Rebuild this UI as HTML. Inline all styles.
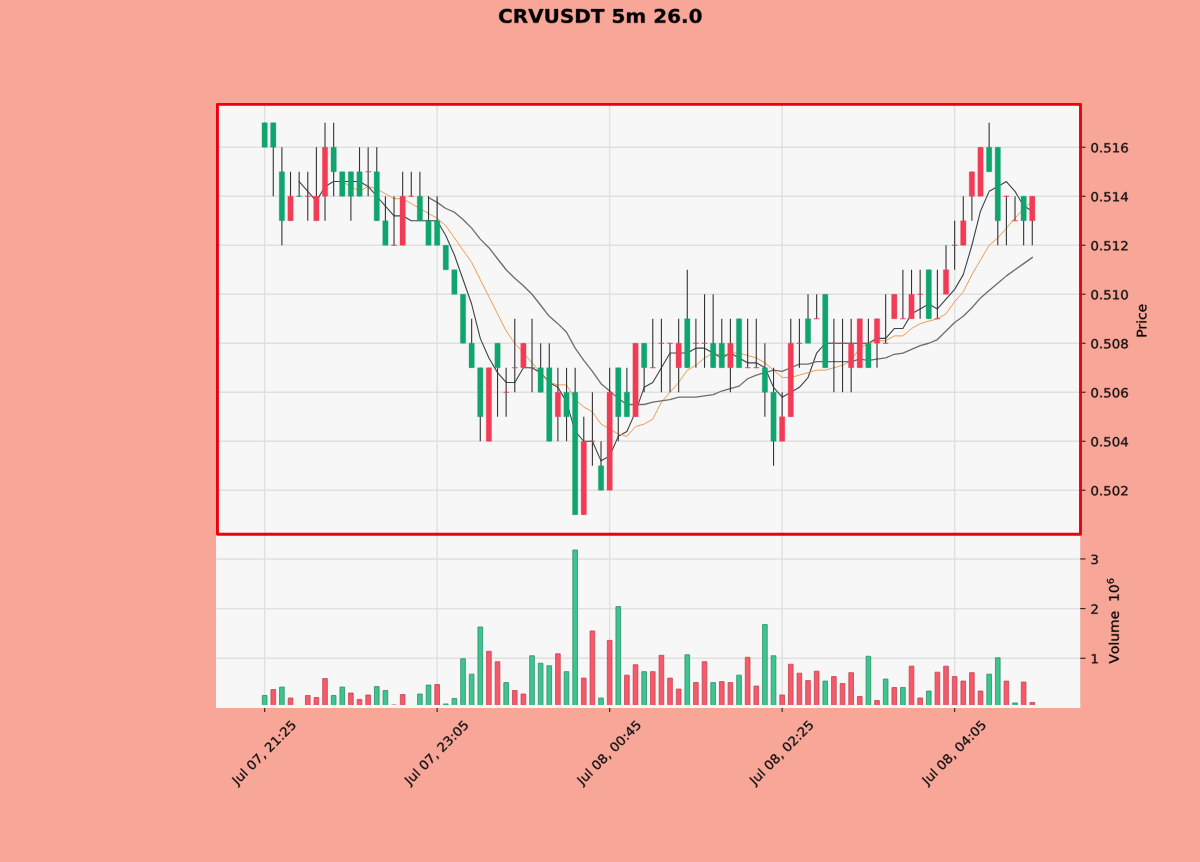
<!DOCTYPE html>
<html><head><meta charset="utf-8"><title>CRVUSDT 5m</title>
<style>html,body{margin:0;padding:0;background:#f8a698;font-family:"Liberation Sans",sans-serif;overflow:hidden}svg{display:block}</style>
</head><body>
<svg width="1200" height="862" viewBox="0 0 864 620.64"> <defs> <style type="text/css">*{stroke-linejoin: round; stroke-linecap: butt}</style> </defs> <g id="figure_1"> <g id="patch_1"> <path d="M 0 620.64 L 864 620.64 L 864 0 L 0 0 z " style="fill: #f8a698"/> </g> <g id="axes_1"> <g id="patch_2"> <path d="M 155.52 509.688 L 777.744 509.688 L 777.744 384.768 L 155.52 384.768 z " style="fill: #f7f7f7"/> </g> <g id="matplotlib.axis_1"> <g id="xtick_1"> <g id="line2d_1"> <path d="M 190.548 509.688 L 190.548 384.768  " clip-path="url(#p574d0a927d)" style="fill: none; stroke: #e0e0e0; stroke-width: 1.008; stroke-linecap: square"/> </g> <g id="line2d_2"> <defs> <path id="m77d8ac2eda" d="M 0 0 L 0 2.88  " style="stroke: #222222; stroke-width: 0.792"/> </defs> <g> <use href="#m77d8ac2eda" x="190.548" y="509.688" style="fill: #222222; stroke: #222222; stroke-width: 0.792"/> </g> </g> <g id="text_1"> <!-- Jul 07, 21:25 --> <g style="fill: #111111" transform="translate(170.891634 565.581496) rotate(-45) scale(0.09648 -0.090691)" stroke="#111111" stroke-width="167.16"> <defs> <path id="DejaVuSans-4a" d="M 628 4666 L 1259 4666 L 1259 325 Q 1259 -519 939 -900 Q 619 -1281 -91 -1281 L -331 -1281 L -331 -750 L -134 -750 Q 284 -750 456 -515 Q 628 -281 628 325 L 628 4666 z " transform="scale(0.015625)"/> <path id="DejaVuSans-75" d="M 544 1381 L 544 3500 L 1119 3500 L 1119 1403 Q 1119 906 1312 657 Q 1506 409 1894 409 Q 2359 409 2629 706 Q 2900 1003 2900 1516 L 2900 3500 L 3475 3500 L 3475 0 L 2900 0 L 2900 538 Q 2691 219 2414 64 Q 2138 -91 1772 -91 Q 1169 -91 856 284 Q 544 659 544 1381 z M 1991 3584 L 1991 3584 z " transform="scale(0.015625)"/> <path id="DejaVuSans-6c" d="M 603 4863 L 1178 4863 L 1178 0 L 603 0 L 603 4863 z " transform="scale(0.015625)"/> <path id="DejaVuSans-20" transform="scale(0.015625)"/> <path id="DejaVuSans-30" d="M 2034 4250 Q 1547 4250 1301 3770 Q 1056 3291 1056 2328 Q 1056 1369 1301 889 Q 1547 409 2034 409 Q 2525 409 2770 889 Q 3016 1369 3016 2328 Q 3016 3291 2770 3770 Q 2525 4250 2034 4250 z M 2034 4750 Q 2819 4750 3233 4129 Q 3647 3509 3647 2328 Q 3647 1150 3233 529 Q 2819 -91 2034 -91 Q 1250 -91 836 529 Q 422 1150 422 2328 Q 422 3509 836 4129 Q 1250 4750 2034 4750 z " transform="scale(0.015625)"/> <path id="DejaVuSans-37" d="M 525 4666 L 3525 4666 L 3525 4397 L 1831 0 L 1172 0 L 2766 4134 L 525 4134 L 525 4666 z " transform="scale(0.015625)"/> <path id="DejaVuSans-2c" d="M 750 794 L 1409 794 L 1409 256 L 897 -744 L 494 -744 L 750 256 L 750 794 z " transform="scale(0.015625)"/> <path id="DejaVuSans-32" d="M 1228 531 L 3431 531 L 3431 0 L 469 0 L 469 531 Q 828 903 1448 1529 Q 2069 2156 2228 2338 Q 2531 2678 2651 2914 Q 2772 3150 2772 3378 Q 2772 3750 2511 3984 Q 2250 4219 1831 4219 Q 1534 4219 1204 4116 Q 875 4013 500 3803 L 500 4441 Q 881 4594 1212 4672 Q 1544 4750 1819 4750 Q 2544 4750 2975 4387 Q 3406 4025 3406 3419 Q 3406 3131 3298 2873 Q 3191 2616 2906 2266 Q 2828 2175 2409 1742 Q 1991 1309 1228 531 z " transform="scale(0.015625)"/> <path id="DejaVuSans-31" d="M 794 531 L 1825 531 L 1825 4091 L 703 3866 L 703 4441 L 1819 4666 L 2450 4666 L 2450 531 L 3481 531 L 3481 0 L 794 0 L 794 531 z " transform="scale(0.015625)"/> <path id="DejaVuSans-3a" d="M 750 794 L 1409 794 L 1409 0 L 750 0 L 750 794 z M 750 3309 L 1409 3309 L 1409 2516 L 750 2516 L 750 3309 z " transform="scale(0.015625)"/> <path id="DejaVuSans-35" d="M 691 4666 L 3169 4666 L 3169 4134 L 1269 4134 L 1269 2991 Q 1406 3038 1543 3061 Q 1681 3084 1819 3084 Q 2600 3084 3056 2656 Q 3513 2228 3513 1497 Q 3513 744 3044 326 Q 2575 -91 1722 -91 Q 1428 -91 1123 -41 Q 819 9 494 109 L 494 744 Q 775 591 1075 516 Q 1375 441 1709 441 Q 2250 441 2565 725 Q 2881 1009 2881 1497 Q 2881 1984 2565 2268 Q 2250 2553 1709 2553 Q 1456 2553 1204 2497 Q 953 2441 691 2322 L 691 4666 z " transform="scale(0.015625)"/> </defs> <use href="#DejaVuSans-4a"/> <use href="#DejaVuSans-75" transform="translate(29.492188 0)"/> <use href="#DejaVuSans-6c" transform="translate(92.871094 0)"/> <use href="#DejaVuSans-20" transform="translate(120.654297 0)"/> <use href="#DejaVuSans-30" transform="translate(152.441406 0)"/> <use href="#DejaVuSans-37" transform="translate(216.064453 0)"/> <use href="#DejaVuSans-2c" transform="translate(279.6875 0)"/> <use href="#DejaVuSans-20" transform="translate(311.474609 0)"/> <use href="#DejaVuSans-32" transform="translate(343.261719 0)"/> <use href="#DejaVuSans-31" transform="translate(406.884766 0)"/> <use href="#DejaVuSans-3a" transform="translate(470.507812 0)"/> <use href="#DejaVuSans-32" transform="translate(504.199219 0)"/> <use href="#DejaVuSans-35" transform="translate(567.822266 0)"/> </g> </g> </g> <g id="xtick_2"> <g id="line2d_3"> <path d="M 314.748 509.688 L 314.748 384.768  " clip-path="url(#p574d0a927d)" style="fill: none; stroke: #e0e0e0; stroke-width: 1.008; stroke-linecap: square"/> </g> <g id="line2d_4"> <g> <use href="#m77d8ac2eda" x="314.748" y="509.688" style="fill: #222222; stroke: #222222; stroke-width: 0.792"/> </g> </g> <g id="text_2"> <!-- Jul 07, 23:05 --> <g style="fill: #111111" transform="translate(295.091634 565.581496) rotate(-45) scale(0.09648 -0.090691)" stroke="#111111" stroke-width="167.16"> <defs> <path id="DejaVuSans-33" d="M 2597 2516 Q 3050 2419 3304 2112 Q 3559 1806 3559 1356 Q 3559 666 3084 287 Q 2609 -91 1734 -91 Q 1441 -91 1130 -33 Q 819 25 488 141 L 488 750 Q 750 597 1062 519 Q 1375 441 1716 441 Q 2309 441 2620 675 Q 2931 909 2931 1356 Q 2931 1769 2642 2001 Q 2353 2234 1838 2234 L 1294 2234 L 1294 2753 L 1863 2753 Q 2328 2753 2575 2939 Q 2822 3125 2822 3475 Q 2822 3834 2567 4026 Q 2313 4219 1838 4219 Q 1578 4219 1281 4162 Q 984 4106 628 3988 L 628 4550 Q 988 4650 1302 4700 Q 1616 4750 1894 4750 Q 2613 4750 3031 4423 Q 3450 4097 3450 3541 Q 3450 3153 3228 2886 Q 3006 2619 2597 2516 z " transform="scale(0.015625)"/> </defs> <use href="#DejaVuSans-4a"/> <use href="#DejaVuSans-75" transform="translate(29.492188 0)"/> <use href="#DejaVuSans-6c" transform="translate(92.871094 0)"/> <use href="#DejaVuSans-20" transform="translate(120.654297 0)"/> <use href="#DejaVuSans-30" transform="translate(152.441406 0)"/> <use href="#DejaVuSans-37" transform="translate(216.064453 0)"/> <use href="#DejaVuSans-2c" transform="translate(279.6875 0)"/> <use href="#DejaVuSans-20" transform="translate(311.474609 0)"/> <use href="#DejaVuSans-32" transform="translate(343.261719 0)"/> <use href="#DejaVuSans-33" transform="translate(406.884766 0)"/> <use href="#DejaVuSans-3a" transform="translate(470.507812 0)"/> <use href="#DejaVuSans-30" transform="translate(504.199219 0)"/> <use href="#DejaVuSans-35" transform="translate(567.822266 0)"/> </g> </g> </g> <g id="xtick_3"> <g id="line2d_5"> <path d="M 438.948 509.688 L 438.948 384.768  " clip-path="url(#p574d0a927d)" style="fill: none; stroke: #e0e0e0; stroke-width: 1.008; stroke-linecap: square"/> </g> <g id="line2d_6"> <g> <use href="#m77d8ac2eda" x="438.948" y="509.688" style="fill: #222222; stroke: #222222; stroke-width: 0.792"/> </g> </g> <g id="text_3"> <!-- Jul 08, 00:45 --> <g style="fill: #111111" transform="translate(419.291634 565.581496) rotate(-45) scale(0.09648 -0.090691)" stroke="#111111" stroke-width="167.16"> <defs> <path id="DejaVuSans-38" d="M 2034 2216 Q 1584 2216 1326 1975 Q 1069 1734 1069 1313 Q 1069 891 1326 650 Q 1584 409 2034 409 Q 2484 409 2743 651 Q 3003 894 3003 1313 Q 3003 1734 2745 1975 Q 2488 2216 2034 2216 z M 1403 2484 Q 997 2584 770 2862 Q 544 3141 544 3541 Q 544 4100 942 4425 Q 1341 4750 2034 4750 Q 2731 4750 3128 4425 Q 3525 4100 3525 3541 Q 3525 3141 3298 2862 Q 3072 2584 2669 2484 Q 3125 2378 3379 2068 Q 3634 1759 3634 1313 Q 3634 634 3220 271 Q 2806 -91 2034 -91 Q 1263 -91 848 271 Q 434 634 434 1313 Q 434 1759 690 2068 Q 947 2378 1403 2484 z M 1172 3481 Q 1172 3119 1398 2916 Q 1625 2713 2034 2713 Q 2441 2713 2670 2916 Q 2900 3119 2900 3481 Q 2900 3844 2670 4047 Q 2441 4250 2034 4250 Q 1625 4250 1398 4047 Q 1172 3844 1172 3481 z " transform="scale(0.015625)"/> <path id="DejaVuSans-34" d="M 2419 4116 L 825 1625 L 2419 1625 L 2419 4116 z M 2253 4666 L 3047 4666 L 3047 1625 L 3713 1625 L 3713 1100 L 3047 1100 L 3047 0 L 2419 0 L 2419 1100 L 313 1100 L 313 1709 L 2253 4666 z " transform="scale(0.015625)"/> </defs> <use href="#DejaVuSans-4a"/> <use href="#DejaVuSans-75" transform="translate(29.492188 0)"/> <use href="#DejaVuSans-6c" transform="translate(92.871094 0)"/> <use href="#DejaVuSans-20" transform="translate(120.654297 0)"/> <use href="#DejaVuSans-30" transform="translate(152.441406 0)"/> <use href="#DejaVuSans-38" transform="translate(216.064453 0)"/> <use href="#DejaVuSans-2c" transform="translate(279.6875 0)"/> <use href="#DejaVuSans-20" transform="translate(311.474609 0)"/> <use href="#DejaVuSans-30" transform="translate(343.261719 0)"/> <use href="#DejaVuSans-30" transform="translate(406.884766 0)"/> <use href="#DejaVuSans-3a" transform="translate(470.507812 0)"/> <use href="#DejaVuSans-34" transform="translate(504.199219 0)"/> <use href="#DejaVuSans-35" transform="translate(567.822266 0)"/> </g> </g> </g> <g id="xtick_4"> <g id="line2d_7"> <path d="M 563.148 509.688 L 563.148 384.768  " clip-path="url(#p574d0a927d)" style="fill: none; stroke: #e0e0e0; stroke-width: 1.008; stroke-linecap: square"/> </g> <g id="line2d_8"> <g> <use href="#m77d8ac2eda" x="563.148" y="509.688" style="fill: #222222; stroke: #222222; stroke-width: 0.792"/> </g> </g> <g id="text_4"> <!-- Jul 08, 02:25 --> <g style="fill: #111111" transform="translate(543.491634 565.581496) rotate(-45) scale(0.09648 -0.090691)" stroke="#111111" stroke-width="167.16"> <use href="#DejaVuSans-4a"/> <use href="#DejaVuSans-75" transform="translate(29.492188 0)"/> <use href="#DejaVuSans-6c" transform="translate(92.871094 0)"/> <use href="#DejaVuSans-20" transform="translate(120.654297 0)"/> <use href="#DejaVuSans-30" transform="translate(152.441406 0)"/> <use href="#DejaVuSans-38" transform="translate(216.064453 0)"/> <use href="#DejaVuSans-2c" transform="translate(279.6875 0)"/> <use href="#DejaVuSans-20" transform="translate(311.474609 0)"/> <use href="#DejaVuSans-30" transform="translate(343.261719 0)"/> <use href="#DejaVuSans-32" transform="translate(406.884766 0)"/> <use href="#DejaVuSans-3a" transform="translate(470.507812 0)"/> <use href="#DejaVuSans-32" transform="translate(504.199219 0)"/> <use href="#DejaVuSans-35" transform="translate(567.822266 0)"/> </g> </g> </g> <g id="xtick_5"> <g id="line2d_9"> <path d="M 687.348 509.688 L 687.348 384.768  " clip-path="url(#p574d0a927d)" style="fill: none; stroke: #e0e0e0; stroke-width: 1.008; stroke-linecap: square"/> </g> <g id="line2d_10"> <g> <use href="#m77d8ac2eda" x="687.348" y="509.688" style="fill: #222222; stroke: #222222; stroke-width: 0.792"/> </g> </g> <g id="text_5"> <!-- Jul 08, 04:05 --> <g style="fill: #111111" transform="translate(667.691634 565.581496) rotate(-45) scale(0.09648 -0.090691)" stroke="#111111" stroke-width="167.16"> <use href="#DejaVuSans-4a"/> <use href="#DejaVuSans-75" transform="translate(29.492188 0)"/> <use href="#DejaVuSans-6c" transform="translate(92.871094 0)"/> <use href="#DejaVuSans-20" transform="translate(120.654297 0)"/> <use href="#DejaVuSans-30" transform="translate(152.441406 0)"/> <use href="#DejaVuSans-38" transform="translate(216.064453 0)"/> <use href="#DejaVuSans-2c" transform="translate(279.6875 0)"/> <use href="#DejaVuSans-20" transform="translate(311.474609 0)"/> <use href="#DejaVuSans-30" transform="translate(343.261719 0)"/> <use href="#DejaVuSans-34" transform="translate(406.884766 0)"/> <use href="#DejaVuSans-3a" transform="translate(470.507812 0)"/> <use href="#DejaVuSans-30" transform="translate(504.199219 0)"/> <use href="#DejaVuSans-35" transform="translate(567.822266 0)"/> </g> </g> </g> </g> <g id="matplotlib.axis_2"> <g id="ytick_1"> <g id="line2d_11"> <path d="M 155.52 473.94 L 777.744 473.94  " clip-path="url(#p574d0a927d)" style="fill: none; stroke: #e0e0e0; stroke-width: 1.008; stroke-linecap: square"/> </g> <g id="line2d_12"> <defs> <path id="m3121557628" d="M 0 0 L 3.816 0  " style="stroke: #222222; stroke-width: 0.792"/> </defs> <g> <use href="#m3121557628" x="777.744" y="473.94" style="fill: #222222; stroke: #222222; stroke-width: 0.792"/> </g> </g> <g id="text_6"> <!-- 1 --> <g style="fill: #111111" transform="translate(785.088 477.605486) scale(0.09648 -0.090691)" stroke="#111111" stroke-width="167.16"> <use href="#DejaVuSans-31"/> </g> </g> </g> <g id="ytick_2"> <g id="line2d_13"> <path d="M 155.52 438.192 L 777.744 438.192  " clip-path="url(#p574d0a927d)" style="fill: none; stroke: #e0e0e0; stroke-width: 1.008; stroke-linecap: square"/> </g> <g id="line2d_14"> <g> <use href="#m3121557628" x="777.744" y="438.192" style="fill: #222222; stroke: #222222; stroke-width: 0.792"/> </g> </g> <g id="text_7"> <!-- 2 --> <g style="fill: #111111" transform="translate(785.088 441.857486) scale(0.09648 -0.090691)" stroke="#111111" stroke-width="167.16"> <use href="#DejaVuSans-32"/> </g> </g> </g> <g id="ytick_3"> <g id="line2d_15"> <path d="M 155.52 402.444 L 777.744 402.444  " clip-path="url(#p574d0a927d)" style="fill: none; stroke: #e0e0e0; stroke-width: 1.008; stroke-linecap: square"/> </g> <g id="line2d_16"> <g> <use href="#m3121557628" x="777.744" y="402.444" style="fill: #222222; stroke: #222222; stroke-width: 0.792"/> </g> </g> <g id="text_8"> <!-- 3 --> <g style="fill: #111111" transform="translate(785.088 406.109486) scale(0.09648 -0.090691)" stroke="#111111" stroke-width="167.16"> <use href="#DejaVuSans-33"/> </g> </g> </g> </g> <g id="patch_3"> <path d="M 188.8713 509.688 L 192.2247 509.688 L 192.2247 500.751 L 188.8713 500.751 z " clip-path="url(#p574d0a927d)" style="fill: #3ec48e; stroke: #2a9068; stroke-width: 0.576; stroke-linejoin: miter"/> </g> <g id="patch_4"> <path d="M 195.0813 509.688 L 198.4347 509.688 L 198.4347 496.46124 L 195.0813 496.46124 z " clip-path="url(#p574d0a927d)" style="fill: #f65a6a; stroke: #c44452; stroke-width: 0.576; stroke-linejoin: miter"/> </g> <g id="patch_5"> <path d="M 201.2913 509.688 L 204.6447 509.688 L 204.6447 494.67384 L 201.2913 494.67384 z " clip-path="url(#p574d0a927d)" style="fill: #3ec48e; stroke: #2a9068; stroke-width: 0.576; stroke-linejoin: miter"/> </g> <g id="patch_6"> <path d="M 207.5013 509.688 L 210.8547 509.688 L 210.8547 502.5384 L 207.5013 502.5384 z " clip-path="url(#p574d0a927d)" style="fill: #f65a6a; stroke: #c44452; stroke-width: 0.576; stroke-linejoin: miter"/> </g> <g id="patch_7"> <path d="M 213.7113 509.688 L 217.0647 509.688 L 217.0647 508.61556 L 213.7113 508.61556 z " clip-path="url(#p574d0a927d)" style="fill: #f65a6a; stroke: #c44452; stroke-width: 0.576; stroke-linejoin: miter"/> </g> <g id="patch_8"> <path d="M 219.9213 509.688 L 223.2747 509.688 L 223.2747 500.751 L 219.9213 500.751 z " clip-path="url(#p574d0a927d)" style="fill: #f65a6a; stroke: #c44452; stroke-width: 0.576; stroke-linejoin: miter"/> </g> <g id="patch_9"> <path d="M 226.1313 509.688 L 229.4847 509.688 L 229.4847 502.18092 L 226.1313 502.18092 z " clip-path="url(#p574d0a927d)" style="fill: #f65a6a; stroke: #c44452; stroke-width: 0.576; stroke-linejoin: miter"/> </g> <g id="patch_10"> <path d="M 232.3413 509.688 L 235.6947 509.688 L 235.6947 488.59668 L 232.3413 488.59668 z " clip-path="url(#p574d0a927d)" style="fill: #f65a6a; stroke: #c44452; stroke-width: 0.576; stroke-linejoin: miter"/> </g> <g id="patch_11"> <path d="M 238.5513 509.688 L 241.9047 509.688 L 241.9047 500.751 L 238.5513 500.751 z " clip-path="url(#p574d0a927d)" style="fill: #3ec48e; stroke: #2a9068; stroke-width: 0.576; stroke-linejoin: miter"/> </g> <g id="patch_12"> <path d="M 244.7613 509.688 L 248.1147 509.688 L 248.1147 494.67384 L 244.7613 494.67384 z " clip-path="url(#p574d0a927d)" style="fill: #3ec48e; stroke: #2a9068; stroke-width: 0.576; stroke-linejoin: miter"/> </g> <g id="patch_13"> <path d="M 250.9713 509.688 L 254.3247 509.688 L 254.3247 498.9636 L 250.9713 498.9636 z " clip-path="url(#p574d0a927d)" style="fill: #f65a6a; stroke: #c44452; stroke-width: 0.576; stroke-linejoin: miter"/> </g> <g id="patch_14"> <path d="M 257.1813 509.688 L 260.5347 509.688 L 260.5347 503.61084 L 257.1813 503.61084 z " clip-path="url(#p574d0a927d)" style="fill: #f65a6a; stroke: #c44452; stroke-width: 0.576; stroke-linejoin: miter"/> </g> <g id="patch_15"> <path d="M 263.3913 509.688 L 266.7447 509.688 L 266.7447 500.39352 L 263.3913 500.39352 z " clip-path="url(#p574d0a927d)" style="fill: #f65a6a; stroke: #c44452; stroke-width: 0.576; stroke-linejoin: miter"/> </g> <g id="patch_16"> <path d="M 269.6013 509.688 L 272.9547 509.688 L 272.9547 494.31636 L 269.6013 494.31636 z " clip-path="url(#p574d0a927d)" style="fill: #3ec48e; stroke: #2a9068; stroke-width: 0.576; stroke-linejoin: miter"/> </g> <g id="patch_17"> <path d="M 275.8113 509.688 L 279.1647 509.688 L 279.1647 497.1762 L 275.8113 497.1762 z " clip-path="url(#p574d0a927d)" style="fill: #3ec48e; stroke: #2a9068; stroke-width: 0.576; stroke-linejoin: miter"/> </g> <g id="patch_18"> <path d="M 282.0213 509.688 L 285.3747 509.688 L 285.3747 507.54312 L 282.0213 507.54312 z " clip-path="url(#p574d0a927d)" style="fill: #f65a6a; stroke: #c44452; stroke-width: 0.576; stroke-linejoin: miter"/> </g> <g id="patch_19"> <path d="M 288.2313 509.688 L 291.5847 509.688 L 291.5847 500.03604 L 288.2313 500.03604 z " clip-path="url(#p574d0a927d)" style="fill: #f65a6a; stroke: #c44452; stroke-width: 0.576; stroke-linejoin: miter"/> </g> <g id="patch_20"> <path d="M 294.4413 509.688 L 297.7947 509.688 L 297.7947 508.97304 L 294.4413 508.97304 z " clip-path="url(#p574d0a927d)" style="fill: #f65a6a; stroke: #c44452; stroke-width: 0.576; stroke-linejoin: miter"/> </g> <g id="patch_21"> <path d="M 300.6513 509.688 L 304.0047 509.688 L 304.0047 499.67856 L 300.6513 499.67856 z " clip-path="url(#p574d0a927d)" style="fill: #3ec48e; stroke: #2a9068; stroke-width: 0.576; stroke-linejoin: miter"/> </g> <g id="patch_22"> <path d="M 306.8613 509.688 L 310.2147 509.688 L 310.2147 493.24392 L 306.8613 493.24392 z " clip-path="url(#p574d0a927d)" style="fill: #3ec48e; stroke: #2a9068; stroke-width: 0.576; stroke-linejoin: miter"/> </g> <g id="patch_23"> <path d="M 313.0713 509.688 L 316.4247 509.688 L 316.4247 492.88644 L 313.0713 492.88644 z " clip-path="url(#p574d0a927d)" style="fill: #f65a6a; stroke: #c44452; stroke-width: 0.576; stroke-linejoin: miter"/> </g> <g id="patch_24"> <path d="M 319.2813 509.688 L 322.6347 509.688 L 322.6347 506.82816 L 319.2813 506.82816 z " clip-path="url(#p574d0a927d)" style="fill: #3ec48e; stroke: #2a9068; stroke-width: 0.576; stroke-linejoin: miter"/> </g> <g id="patch_25"> <path d="M 325.4913 509.688 L 328.8447 509.688 L 328.8447 502.89588 L 325.4913 502.89588 z " clip-path="url(#p574d0a927d)" style="fill: #3ec48e; stroke: #2a9068; stroke-width: 0.576; stroke-linejoin: miter"/> </g> <g id="patch_26"> <path d="M 331.7013 509.688 L 335.0547 509.688 L 335.0547 474.29748 L 331.7013 474.29748 z " clip-path="url(#p574d0a927d)" style="fill: #3ec48e; stroke: #2a9068; stroke-width: 0.576; stroke-linejoin: miter"/> </g> <g id="patch_27"> <path d="M 337.9113 509.688 L 341.2647 509.688 L 341.2647 485.37936 L 337.9113 485.37936 z " clip-path="url(#p574d0a927d)" style="fill: #3ec48e; stroke: #2a9068; stroke-width: 0.576; stroke-linejoin: miter"/> </g> <g id="patch_28"> <path d="M 344.1213 509.688 L 347.4747 509.688 L 347.4747 451.41876 L 344.1213 451.41876 z " clip-path="url(#p574d0a927d)" style="fill: #3ec48e; stroke: #2a9068; stroke-width: 0.576; stroke-linejoin: miter"/> </g> <g id="patch_29"> <path d="M 350.3313 509.688 L 353.6847 509.688 L 353.6847 468.93528 L 350.3313 468.93528 z " clip-path="url(#p574d0a927d)" style="fill: #f65a6a; stroke: #c44452; stroke-width: 0.576; stroke-linejoin: miter"/> </g> <g id="patch_30"> <path d="M 356.5413 509.688 L 359.8947 509.688 L 359.8947 476.44236 L 356.5413 476.44236 z " clip-path="url(#p574d0a927d)" style="fill: #f65a6a; stroke: #c44452; stroke-width: 0.576; stroke-linejoin: miter"/> </g> <g id="patch_31"> <path d="M 362.7513 509.688 L 366.1047 509.688 L 366.1047 491.45652 L 362.7513 491.45652 z " clip-path="url(#p574d0a927d)" style="fill: #3ec48e; stroke: #2a9068; stroke-width: 0.576; stroke-linejoin: miter"/> </g> <g id="patch_32"> <path d="M 368.9613 509.688 L 372.3147 509.688 L 372.3147 497.1762 L 368.9613 497.1762 z " clip-path="url(#p574d0a927d)" style="fill: #f65a6a; stroke: #c44452; stroke-width: 0.576; stroke-linejoin: miter"/> </g> <g id="patch_33"> <path d="M 375.1713 509.688 L 378.5247 509.688 L 378.5247 499.67856 L 375.1713 499.67856 z " clip-path="url(#p574d0a927d)" style="fill: #f65a6a; stroke: #c44452; stroke-width: 0.576; stroke-linejoin: miter"/> </g> <g id="patch_34"> <path d="M 381.3813 509.688 L 384.7347 509.688 L 384.7347 472.1526 L 381.3813 472.1526 z " clip-path="url(#p574d0a927d)" style="fill: #3ec48e; stroke: #2a9068; stroke-width: 0.576; stroke-linejoin: miter"/> </g> <g id="patch_35"> <path d="M 387.5913 509.688 L 390.9447 509.688 L 390.9447 477.5148 L 387.5913 477.5148 z " clip-path="url(#p574d0a927d)" style="fill: #3ec48e; stroke: #2a9068; stroke-width: 0.576; stroke-linejoin: miter"/> </g> <g id="patch_36"> <path d="M 393.8013 509.688 L 397.1547 509.688 L 397.1547 479.3022 L 393.8013 479.3022 z " clip-path="url(#p574d0a927d)" style="fill: #3ec48e; stroke: #2a9068; stroke-width: 0.576; stroke-linejoin: miter"/> </g> <g id="patch_37"> <path d="M 400.0113 509.688 L 403.3647 509.688 L 403.3647 470.72268 L 400.0113 470.72268 z " clip-path="url(#p574d0a927d)" style="fill: #f65a6a; stroke: #c44452; stroke-width: 0.576; stroke-linejoin: miter"/> </g> <g id="patch_38"> <path d="M 406.2213 509.688 L 409.5747 509.688 L 409.5747 483.59196 L 406.2213 483.59196 z " clip-path="url(#p574d0a927d)" style="fill: #3ec48e; stroke: #2a9068; stroke-width: 0.576; stroke-linejoin: miter"/> </g> <g id="patch_39"> <path d="M 412.4313 509.688 L 415.7847 509.688 L 415.7847 396.00936 L 412.4313 396.00936 z " clip-path="url(#p574d0a927d)" style="fill: #3ec48e; stroke: #2a9068; stroke-width: 0.576; stroke-linejoin: miter"/> </g> <g id="patch_40"> <path d="M 418.6413 509.688 L 421.9947 509.688 L 421.9947 488.2392 L 418.6413 488.2392 z " clip-path="url(#p574d0a927d)" style="fill: #f65a6a; stroke: #c44452; stroke-width: 0.576; stroke-linejoin: miter"/> </g> <g id="patch_41"> <path d="M 424.8513 509.688 L 428.2047 509.688 L 428.2047 454.2786 L 424.8513 454.2786 z " clip-path="url(#p574d0a927d)" style="fill: #f65a6a; stroke: #c44452; stroke-width: 0.576; stroke-linejoin: miter"/> </g> <g id="patch_42"> <path d="M 431.0613 509.688 L 434.4147 509.688 L 434.4147 502.5384 L 431.0613 502.5384 z " clip-path="url(#p574d0a927d)" style="fill: #3ec48e; stroke: #2a9068; stroke-width: 0.576; stroke-linejoin: miter"/> </g> <g id="patch_43"> <path d="M 437.2713 509.688 L 440.6247 509.688 L 440.6247 461.07072 L 437.2713 461.07072 z " clip-path="url(#p574d0a927d)" style="fill: #f65a6a; stroke: #c44452; stroke-width: 0.576; stroke-linejoin: miter"/> </g> <g id="patch_44"> <path d="M 443.4813 509.688 L 446.8347 509.688 L 446.8347 436.76208 L 443.4813 436.76208 z " clip-path="url(#p574d0a927d)" style="fill: #3ec48e; stroke: #2a9068; stroke-width: 0.576; stroke-linejoin: miter"/> </g> <g id="patch_45"> <path d="M 449.6913 509.688 L 453.0447 509.688 L 453.0447 486.09432 L 449.6913 486.09432 z " clip-path="url(#p574d0a927d)" style="fill: #f65a6a; stroke: #c44452; stroke-width: 0.576; stroke-linejoin: miter"/> </g> <g id="patch_46"> <path d="M 455.9013 509.688 L 459.2547 509.688 L 459.2547 478.58724 L 455.9013 478.58724 z " clip-path="url(#p574d0a927d)" style="fill: #f65a6a; stroke: #c44452; stroke-width: 0.576; stroke-linejoin: miter"/> </g> <g id="patch_47"> <path d="M 462.1113 509.688 L 465.4647 509.688 L 465.4647 483.59196 L 462.1113 483.59196 z " clip-path="url(#p574d0a927d)" style="fill: #3ec48e; stroke: #2a9068; stroke-width: 0.576; stroke-linejoin: miter"/> </g> <g id="patch_48"> <path d="M 468.3213 509.688 L 471.6747 509.688 L 471.6747 483.59196 L 468.3213 483.59196 z " clip-path="url(#p574d0a927d)" style="fill: #f65a6a; stroke: #c44452; stroke-width: 0.576; stroke-linejoin: miter"/> </g> <g id="patch_49"> <path d="M 474.5313 509.688 L 477.8847 509.688 L 477.8847 471.79512 L 474.5313 471.79512 z " clip-path="url(#p574d0a927d)" style="fill: #f65a6a; stroke: #c44452; stroke-width: 0.576; stroke-linejoin: miter"/> </g> <g id="patch_50"> <path d="M 480.7413 509.688 L 484.0947 509.688 L 484.0947 488.2392 L 480.7413 488.2392 z " clip-path="url(#p574d0a927d)" style="fill: #f65a6a; stroke: #c44452; stroke-width: 0.576; stroke-linejoin: miter"/> </g> <g id="patch_51"> <path d="M 486.9513 509.688 L 490.3047 509.688 L 490.3047 496.10376 L 486.9513 496.10376 z " clip-path="url(#p574d0a927d)" style="fill: #f65a6a; stroke: #c44452; stroke-width: 0.576; stroke-linejoin: miter"/> </g> <g id="patch_52"> <path d="M 493.1613 509.688 L 496.5147 509.688 L 496.5147 471.43764 L 493.1613 471.43764 z " clip-path="url(#p574d0a927d)" style="fill: #3ec48e; stroke: #2a9068; stroke-width: 0.576; stroke-linejoin: miter"/> </g> <g id="patch_53"> <path d="M 499.3713 509.688 L 502.7247 509.688 L 502.7247 491.45652 L 499.3713 491.45652 z " clip-path="url(#p574d0a927d)" style="fill: #f65a6a; stroke: #c44452; stroke-width: 0.576; stroke-linejoin: miter"/> </g> <g id="patch_54"> <path d="M 505.5813 509.688 L 508.9347 509.688 L 508.9347 476.44236 L 505.5813 476.44236 z " clip-path="url(#p574d0a927d)" style="fill: #f65a6a; stroke: #c44452; stroke-width: 0.576; stroke-linejoin: miter"/> </g> <g id="patch_55"> <path d="M 511.7913 509.688 L 515.1447 509.688 L 515.1447 491.45652 L 511.7913 491.45652 z " clip-path="url(#p574d0a927d)" style="fill: #3ec48e; stroke: #2a9068; stroke-width: 0.576; stroke-linejoin: miter"/> </g> <g id="patch_56"> <path d="M 518.0013 509.688 L 521.3547 509.688 L 521.3547 490.74156 L 518.0013 490.74156 z " clip-path="url(#p574d0a927d)" style="fill: #f65a6a; stroke: #c44452; stroke-width: 0.576; stroke-linejoin: miter"/> </g> <g id="patch_57"> <path d="M 524.2113 509.688 L 527.5647 509.688 L 527.5647 491.45652 L 524.2113 491.45652 z " clip-path="url(#p574d0a927d)" style="fill: #f65a6a; stroke: #c44452; stroke-width: 0.576; stroke-linejoin: miter"/> </g> <g id="patch_58"> <path d="M 530.4213 509.688 L 533.7747 509.688 L 533.7747 486.09432 L 530.4213 486.09432 z " clip-path="url(#p574d0a927d)" style="fill: #3ec48e; stroke: #2a9068; stroke-width: 0.576; stroke-linejoin: miter"/> </g> <g id="patch_59"> <path d="M 536.6313 509.688 L 539.9847 509.688 L 539.9847 473.22504 L 536.6313 473.22504 z " clip-path="url(#p574d0a927d)" style="fill: #f65a6a; stroke: #c44452; stroke-width: 0.576; stroke-linejoin: miter"/> </g> <g id="patch_60"> <path d="M 542.8413 509.688 L 546.1947 509.688 L 546.1947 493.95888 L 542.8413 493.95888 z " clip-path="url(#p574d0a927d)" style="fill: #f65a6a; stroke: #c44452; stroke-width: 0.576; stroke-linejoin: miter"/> </g> <g id="patch_61"> <path d="M 549.0513 509.688 L 552.4047 509.688 L 552.4047 449.63136 L 549.0513 449.63136 z " clip-path="url(#p574d0a927d)" style="fill: #3ec48e; stroke: #2a9068; stroke-width: 0.576; stroke-linejoin: miter"/> </g> <g id="patch_62"> <path d="M 555.2613 509.688 L 558.6147 509.688 L 558.6147 472.1526 L 555.2613 472.1526 z " clip-path="url(#p574d0a927d)" style="fill: #3ec48e; stroke: #2a9068; stroke-width: 0.576; stroke-linejoin: miter"/> </g> <g id="patch_63"> <path d="M 561.4713 509.688 L 564.8247 509.688 L 564.8247 500.39352 L 561.4713 500.39352 z " clip-path="url(#p574d0a927d)" style="fill: #f65a6a; stroke: #c44452; stroke-width: 0.576; stroke-linejoin: miter"/> </g> <g id="patch_64"> <path d="M 567.6813 509.688 L 571.0347 509.688 L 571.0347 478.22976 L 567.6813 478.22976 z " clip-path="url(#p574d0a927d)" style="fill: #f65a6a; stroke: #c44452; stroke-width: 0.576; stroke-linejoin: miter"/> </g> <g id="patch_65"> <path d="M 573.8913 509.688 L 577.2447 509.688 L 577.2447 484.6644 L 573.8913 484.6644 z " clip-path="url(#p574d0a927d)" style="fill: #f65a6a; stroke: #c44452; stroke-width: 0.576; stroke-linejoin: miter"/> </g> <g id="patch_66"> <path d="M 580.1013 509.688 L 583.4547 509.688 L 583.4547 490.0266 L 580.1013 490.0266 z " clip-path="url(#p574d0a927d)" style="fill: #f65a6a; stroke: #c44452; stroke-width: 0.576; stroke-linejoin: miter"/> </g> <g id="patch_67"> <path d="M 586.3113 509.688 L 589.6647 509.688 L 589.6647 483.23448 L 586.3113 483.23448 z " clip-path="url(#p574d0a927d)" style="fill: #f65a6a; stroke: #c44452; stroke-width: 0.576; stroke-linejoin: miter"/> </g> <g id="patch_68"> <path d="M 592.5213 509.688 L 595.8747 509.688 L 595.8747 490.38408 L 592.5213 490.38408 z " clip-path="url(#p574d0a927d)" style="fill: #3ec48e; stroke: #2a9068; stroke-width: 0.576; stroke-linejoin: miter"/> </g> <g id="patch_69"> <path d="M 598.7313 509.688 L 602.0847 509.688 L 602.0847 487.16676 L 598.7313 487.16676 z " clip-path="url(#p574d0a927d)" style="fill: #f65a6a; stroke: #c44452; stroke-width: 0.576; stroke-linejoin: miter"/> </g> <g id="patch_70"> <path d="M 604.9413 509.688 L 608.2947 509.688 L 608.2947 492.17148 L 604.9413 492.17148 z " clip-path="url(#p574d0a927d)" style="fill: #f65a6a; stroke: #c44452; stroke-width: 0.576; stroke-linejoin: miter"/> </g> <g id="patch_71"> <path d="M 611.1513 509.688 L 614.5047 509.688 L 614.5047 484.30692 L 611.1513 484.30692 z " clip-path="url(#p574d0a927d)" style="fill: #f65a6a; stroke: #c44452; stroke-width: 0.576; stroke-linejoin: miter"/> </g> <g id="patch_72"> <path d="M 617.3613 509.688 L 620.7147 509.688 L 620.7147 501.46596 L 617.3613 501.46596 z " clip-path="url(#p574d0a927d)" style="fill: #f65a6a; stroke: #c44452; stroke-width: 0.576; stroke-linejoin: miter"/> </g> <g id="patch_73"> <path d="M 623.5713 509.688 L 626.9247 509.688 L 626.9247 472.51008 L 623.5713 472.51008 z " clip-path="url(#p574d0a927d)" style="fill: #3ec48e; stroke: #2a9068; stroke-width: 0.576; stroke-linejoin: miter"/> </g> <g id="patch_74"> <path d="M 629.7813 509.688 L 633.1347 509.688 L 633.1347 504.3258 L 629.7813 504.3258 z " clip-path="url(#p574d0a927d)" style="fill: #f65a6a; stroke: #c44452; stroke-width: 0.576; stroke-linejoin: miter"/> </g> <g id="patch_75"> <path d="M 635.9913 509.688 L 639.3447 509.688 L 639.3447 488.95416 L 635.9913 488.95416 z " clip-path="url(#p574d0a927d)" style="fill: #3ec48e; stroke: #2a9068; stroke-width: 0.576; stroke-linejoin: miter"/> </g> <g id="patch_76"> <path d="M 642.2013 509.688 L 645.5547 509.688 L 645.5547 495.03132 L 642.2013 495.03132 z " clip-path="url(#p574d0a927d)" style="fill: #f65a6a; stroke: #c44452; stroke-width: 0.576; stroke-linejoin: miter"/> </g> <g id="patch_77"> <path d="M 648.4113 509.688 L 651.7647 509.688 L 651.7647 495.03132 L 648.4113 495.03132 z " clip-path="url(#p574d0a927d)" style="fill: #3ec48e; stroke: #2a9068; stroke-width: 0.576; stroke-linejoin: miter"/> </g> <g id="patch_78"> <path d="M 654.6213 509.688 L 657.9747 509.688 L 657.9747 479.65968 L 654.6213 479.65968 z " clip-path="url(#p574d0a927d)" style="fill: #f65a6a; stroke: #c44452; stroke-width: 0.576; stroke-linejoin: miter"/> </g> <g id="patch_79"> <path d="M 660.8313 509.688 L 664.1847 509.688 L 664.1847 502.5384 L 660.8313 502.5384 z " clip-path="url(#p574d0a927d)" style="fill: #f65a6a; stroke: #c44452; stroke-width: 0.576; stroke-linejoin: miter"/> </g> <g id="patch_80"> <path d="M 667.0413 509.688 L 670.3947 509.688 L 670.3947 497.53368 L 667.0413 497.53368 z " clip-path="url(#p574d0a927d)" style="fill: #3ec48e; stroke: #2a9068; stroke-width: 0.576; stroke-linejoin: miter"/> </g> <g id="patch_81"> <path d="M 673.2513 509.688 L 676.6047 509.688 L 676.6047 483.94944 L 673.2513 483.94944 z " clip-path="url(#p574d0a927d)" style="fill: #f65a6a; stroke: #c44452; stroke-width: 0.576; stroke-linejoin: miter"/> </g> <g id="patch_82"> <path d="M 679.4613 509.688 L 682.8147 509.688 L 682.8147 479.65968 L 679.4613 479.65968 z " clip-path="url(#p574d0a927d)" style="fill: #f65a6a; stroke: #c44452; stroke-width: 0.576; stroke-linejoin: miter"/> </g> <g id="patch_83"> <path d="M 685.6713 509.688 L 689.0247 509.688 L 689.0247 487.16676 L 685.6713 487.16676 z " clip-path="url(#p574d0a927d)" style="fill: #f65a6a; stroke: #c44452; stroke-width: 0.576; stroke-linejoin: miter"/> </g> <g id="patch_84"> <path d="M 691.8813 509.688 L 695.2347 509.688 L 695.2347 490.38408 L 691.8813 490.38408 z " clip-path="url(#p574d0a927d)" style="fill: #f65a6a; stroke: #c44452; stroke-width: 0.576; stroke-linejoin: miter"/> </g> <g id="patch_85"> <path d="M 698.0913 509.688 L 701.4447 509.688 L 701.4447 484.30692 L 698.0913 484.30692 z " clip-path="url(#p574d0a927d)" style="fill: #f65a6a; stroke: #c44452; stroke-width: 0.576; stroke-linejoin: miter"/> </g> <g id="patch_86"> <path d="M 704.3013 509.688 L 707.6547 509.688 L 707.6547 497.53368 L 704.3013 497.53368 z " clip-path="url(#p574d0a927d)" style="fill: #f65a6a; stroke: #c44452; stroke-width: 0.576; stroke-linejoin: miter"/> </g> <g id="patch_87"> <path d="M 710.5113 509.688 L 713.8647 509.688 L 713.8647 485.37936 L 710.5113 485.37936 z " clip-path="url(#p574d0a927d)" style="fill: #3ec48e; stroke: #2a9068; stroke-width: 0.576; stroke-linejoin: miter"/> </g> <g id="patch_88"> <path d="M 716.7213 509.688 L 720.0747 509.688 L 720.0747 473.58252 L 716.7213 473.58252 z " clip-path="url(#p574d0a927d)" style="fill: #3ec48e; stroke: #2a9068; stroke-width: 0.576; stroke-linejoin: miter"/> </g> <g id="patch_89"> <path d="M 722.9313 509.688 L 726.2847 509.688 L 726.2847 490.38408 L 722.9313 490.38408 z " clip-path="url(#p574d0a927d)" style="fill: #f65a6a; stroke: #c44452; stroke-width: 0.576; stroke-linejoin: miter"/> </g> <g id="patch_90"> <path d="M 729.1413 509.688 L 732.4947 509.688 L 732.4947 506.1132 L 729.1413 506.1132 z " clip-path="url(#p574d0a927d)" style="fill: #3ec48e; stroke: #2a9068; stroke-width: 0.576; stroke-linejoin: miter"/> </g> <g id="patch_91"> <path d="M 735.3513 509.688 L 738.7047 509.688 L 738.7047 491.09904 L 735.3513 491.09904 z " clip-path="url(#p574d0a927d)" style="fill: #f65a6a; stroke: #c44452; stroke-width: 0.576; stroke-linejoin: miter"/> </g> <g id="patch_92"> <path d="M 741.5613 509.688 L 744.9147 509.688 L 744.9147 505.75572 L 741.5613 505.75572 z " clip-path="url(#p574d0a927d)" style="fill: #f65a6a; stroke: #c44452; stroke-width: 0.576; stroke-linejoin: miter"/> </g> </g> <g id="axes_2"> <g id="patch_93"> <path d="M 155.52 384.768 L 777.744 384.768 L 777.744 75.168 L 155.52 75.168 z " style="fill: #f7f7f7"/> </g> <g id="matplotlib.axis_3"> <g id="xtick_6"> <g id="line2d_17"> <path d="M 190.548 384.768 L 190.548 75.168  " clip-path="url(#p2181c71e52)" style="fill: none; stroke: #e0e0e0; stroke-width: 1.008; stroke-linecap: square"/> </g> <g id="line2d_18"/> </g> <g id="xtick_7"> <g id="line2d_19"> <path d="M 314.748 384.768 L 314.748 75.168  " clip-path="url(#p2181c71e52)" style="fill: none; stroke: #e0e0e0; stroke-width: 1.008; stroke-linecap: square"/> </g> <g id="line2d_20"/> </g> <g id="xtick_8"> <g id="line2d_21"> <path d="M 438.948 384.768 L 438.948 75.168  " clip-path="url(#p2181c71e52)" style="fill: none; stroke: #e0e0e0; stroke-width: 1.008; stroke-linecap: square"/> </g> <g id="line2d_22"/> </g> <g id="xtick_9"> <g id="line2d_23"> <path d="M 563.148 384.768 L 563.148 75.168  " clip-path="url(#p2181c71e52)" style="fill: none; stroke: #e0e0e0; stroke-width: 1.008; stroke-linecap: square"/> </g> <g id="line2d_24"/> </g> <g id="xtick_10"> <g id="line2d_25"> <path d="M 687.348 384.768 L 687.348 75.168  " clip-path="url(#p2181c71e52)" style="fill: none; stroke: #e0e0e0; stroke-width: 1.008; stroke-linecap: square"/> </g> <g id="line2d_26"/> </g> </g> <g id="matplotlib.axis_4"> <g id="ytick_4"> <g id="line2d_27"> <path d="M 155.52 352.98 L 777.744 352.98  " clip-path="url(#p2181c71e52)" style="fill: none; stroke: #e0e0e0; stroke-width: 1.008; stroke-linecap: square"/> </g> <g id="line2d_28"> <g> <use href="#m3121557628" x="777.744" y="352.98" style="fill: #222222; stroke: #222222; stroke-width: 0.792"/> </g> </g> <g id="text_9"> <!-- 0.502 --> <g style="fill: #111111" transform="translate(785.088 356.645486) scale(0.09648 -0.090691)" stroke="#111111" stroke-width="167.16"> <defs> <path id="DejaVuSans-2e" d="M 684 794 L 1344 794 L 1344 0 L 684 0 L 684 794 z " transform="scale(0.015625)"/> </defs> <use href="#DejaVuSans-30"/> <use href="#DejaVuSans-2e" transform="translate(63.623047 0)"/> <use href="#DejaVuSans-35" transform="translate(95.410156 0)"/> <use href="#DejaVuSans-30" transform="translate(159.033203 0)"/> <use href="#DejaVuSans-32" transform="translate(222.65625 0)"/> </g> </g> </g> <g id="ytick_5"> <g id="line2d_29"> <path d="M 155.52 317.7 L 777.744 317.7  " clip-path="url(#p2181c71e52)" style="fill: none; stroke: #e0e0e0; stroke-width: 1.008; stroke-linecap: square"/> </g> <g id="line2d_30"> <g> <use href="#m3121557628" x="777.744" y="317.7" style="fill: #222222; stroke: #222222; stroke-width: 0.792"/> </g> </g> <g id="text_10"> <!-- 0.504 --> <g style="fill: #111111" transform="translate(785.088 321.365486) scale(0.09648 -0.090691)" stroke="#111111" stroke-width="167.16"> <use href="#DejaVuSans-30"/> <use href="#DejaVuSans-2e" transform="translate(63.623047 0)"/> <use href="#DejaVuSans-35" transform="translate(95.410156 0)"/> <use href="#DejaVuSans-30" transform="translate(159.033203 0)"/> <use href="#DejaVuSans-34" transform="translate(222.65625 0)"/> </g> </g> </g> <g id="ytick_6"> <g id="line2d_31"> <path d="M 155.52 282.42 L 777.744 282.42  " clip-path="url(#p2181c71e52)" style="fill: none; stroke: #e0e0e0; stroke-width: 1.008; stroke-linecap: square"/> </g> <g id="line2d_32"> <g> <use href="#m3121557628" x="777.744" y="282.42" style="fill: #222222; stroke: #222222; stroke-width: 0.792"/> </g> </g> <g id="text_11"> <!-- 0.506 --> <g style="fill: #111111" transform="translate(785.088 286.085486) scale(0.09648 -0.090691)" stroke="#111111" stroke-width="167.16"> <defs> <path id="DejaVuSans-36" d="M 2113 2584 Q 1688 2584 1439 2293 Q 1191 2003 1191 1497 Q 1191 994 1439 701 Q 1688 409 2113 409 Q 2538 409 2786 701 Q 3034 994 3034 1497 Q 3034 2003 2786 2293 Q 2538 2584 2113 2584 z M 3366 4563 L 3366 3988 Q 3128 4100 2886 4159 Q 2644 4219 2406 4219 Q 1781 4219 1451 3797 Q 1122 3375 1075 2522 Q 1259 2794 1537 2939 Q 1816 3084 2150 3084 Q 2853 3084 3261 2657 Q 3669 2231 3669 1497 Q 3669 778 3244 343 Q 2819 -91 2113 -91 Q 1303 -91 875 529 Q 447 1150 447 2328 Q 447 3434 972 4092 Q 1497 4750 2381 4750 Q 2619 4750 2861 4703 Q 3103 4656 3366 4563 z " transform="scale(0.015625)"/> </defs> <use href="#DejaVuSans-30"/> <use href="#DejaVuSans-2e" transform="translate(63.623047 0)"/> <use href="#DejaVuSans-35" transform="translate(95.410156 0)"/> <use href="#DejaVuSans-30" transform="translate(159.033203 0)"/> <use href="#DejaVuSans-36" transform="translate(222.65625 0)"/> </g> </g> </g> <g id="ytick_7"> <g id="line2d_33"> <path d="M 155.52 247.14 L 777.744 247.14  " clip-path="url(#p2181c71e52)" style="fill: none; stroke: #e0e0e0; stroke-width: 1.008; stroke-linecap: square"/> </g> <g id="line2d_34"> <g> <use href="#m3121557628" x="777.744" y="247.14" style="fill: #222222; stroke: #222222; stroke-width: 0.792"/> </g> </g> <g id="text_12"> <!-- 0.508 --> <g style="fill: #111111" transform="translate(785.088 250.805486) scale(0.09648 -0.090691)" stroke="#111111" stroke-width="167.16"> <use href="#DejaVuSans-30"/> <use href="#DejaVuSans-2e" transform="translate(63.623047 0)"/> <use href="#DejaVuSans-35" transform="translate(95.410156 0)"/> <use href="#DejaVuSans-30" transform="translate(159.033203 0)"/> <use href="#DejaVuSans-38" transform="translate(222.65625 0)"/> </g> </g> </g> <g id="ytick_8"> <g id="line2d_35"> <path d="M 155.52 211.86 L 777.744 211.86  " clip-path="url(#p2181c71e52)" style="fill: none; stroke: #e0e0e0; stroke-width: 1.008; stroke-linecap: square"/> </g> <g id="line2d_36"> <g> <use href="#m3121557628" x="777.744" y="211.86" style="fill: #222222; stroke: #222222; stroke-width: 0.792"/> </g> </g> <g id="text_13"> <!-- 0.510 --> <g style="fill: #111111" transform="translate(785.088 215.525486) scale(0.09648 -0.090691)" stroke="#111111" stroke-width="167.16"> <use href="#DejaVuSans-30"/> <use href="#DejaVuSans-2e" transform="translate(63.623047 0)"/> <use href="#DejaVuSans-35" transform="translate(95.410156 0)"/> <use href="#DejaVuSans-31" transform="translate(159.033203 0)"/> <use href="#DejaVuSans-30" transform="translate(222.65625 0)"/> </g> </g> </g> <g id="ytick_9"> <g id="line2d_37"> <path d="M 155.52 176.58 L 777.744 176.58  " clip-path="url(#p2181c71e52)" style="fill: none; stroke: #e0e0e0; stroke-width: 1.008; stroke-linecap: square"/> </g> <g id="line2d_38"> <g> <use href="#m3121557628" x="777.744" y="176.58" style="fill: #222222; stroke: #222222; stroke-width: 0.792"/> </g> </g> <g id="text_14"> <!-- 0.512 --> <g style="fill: #111111" transform="translate(785.088 180.245486) scale(0.09648 -0.090691)" stroke="#111111" stroke-width="167.16"> <use href="#DejaVuSans-30"/> <use href="#DejaVuSans-2e" transform="translate(63.623047 0)"/> <use href="#DejaVuSans-35" transform="translate(95.410156 0)"/> <use href="#DejaVuSans-31" transform="translate(159.033203 0)"/> <use href="#DejaVuSans-32" transform="translate(222.65625 0)"/> </g> </g> </g> <g id="ytick_10"> <g id="line2d_39"> <path d="M 155.52 141.3 L 777.744 141.3  " clip-path="url(#p2181c71e52)" style="fill: none; stroke: #e0e0e0; stroke-width: 1.008; stroke-linecap: square"/> </g> <g id="line2d_40"> <g> <use href="#m3121557628" x="777.744" y="141.3" style="fill: #222222; stroke: #222222; stroke-width: 0.792"/> </g> </g> <g id="text_15"> <!-- 0.514 --> <g style="fill: #111111" transform="translate(785.088 144.965486) scale(0.09648 -0.090691)" stroke="#111111" stroke-width="167.16"> <use href="#DejaVuSans-30"/> <use href="#DejaVuSans-2e" transform="translate(63.623047 0)"/> <use href="#DejaVuSans-35" transform="translate(95.410156 0)"/> <use href="#DejaVuSans-31" transform="translate(159.033203 0)"/> <use href="#DejaVuSans-34" transform="translate(222.65625 0)"/> </g> </g> </g> <g id="ytick_11"> <g id="line2d_41"> <path d="M 155.52 106.02 L 777.744 106.02  " clip-path="url(#p2181c71e52)" style="fill: none; stroke: #e0e0e0; stroke-width: 1.008; stroke-linecap: square"/> </g> <g id="line2d_42"> <g> <use href="#m3121557628" x="777.744" y="106.02" style="fill: #222222; stroke: #222222; stroke-width: 0.792"/> </g> </g> <g id="text_16"> <!-- 0.516 --> <g style="fill: #111111" transform="translate(785.088 109.685486) scale(0.09648 -0.090691)" stroke="#111111" stroke-width="167.16"> <use href="#DejaVuSans-30"/> <use href="#DejaVuSans-2e" transform="translate(63.623047 0)"/> <use href="#DejaVuSans-35" transform="translate(95.410156 0)"/> <use href="#DejaVuSans-31" transform="translate(159.033203 0)"/> <use href="#DejaVuSans-36" transform="translate(222.65625 0)"/> </g> </g> </g> </g> <g id="line2d_43"> <path d="M 215.388 130.716 L 221.598 137.772 L 227.808 144.828 L 234.018 134.244 L 240.228 130.716 L 246.438 130.716 L 252.648 130.716 L 258.858 130.716 L 265.068 134.244 L 271.278 141.3 L 277.488 148.356 L 283.698 155.412 L 289.908 155.412 L 296.118 158.94 L 302.328 158.94 L 308.538 158.94 L 314.748 158.94 L 320.958 169.524 L 327.168 183.636 L 333.378 201.276 L 339.588 218.916 L 345.798 243.612 L 352.008 257.724 L 358.218 268.308 L 364.428 275.364 L 370.638 275.364 L 376.848 264.78 L 383.058 264.78 L 389.268 268.308 L 395.478 275.364 L 401.688 278.892 L 407.898 289.476 L 414.108 310.644 L 420.318 317.7 L 426.528 317.7 L 432.738 331.812 L 438.948 328.284 L 445.158 314.172 L 451.368 310.644 L 457.578 296.532 L 463.788 278.892 L 469.998 275.364 L 476.208 264.78 L 482.418 254.196 L 488.628 254.196 L 494.838 254.196 L 501.048 250.668 L 507.258 250.668 L 513.468 254.196 L 519.678 257.724 L 525.888 254.196 L 532.098 257.724 L 538.308 261.252 L 544.518 261.252 L 550.728 264.78 L 556.938 278.892 L 563.148 285.948 L 569.358 282.42 L 575.568 278.892 L 581.778 271.836 L 587.988 254.196 L 594.198 247.14 L 600.408 247.14 L 606.618 247.14 L 612.828 247.14 L 619.038 247.14 L 625.248 247.14 L 631.458 243.612 L 637.668 243.612 L 643.878 236.556 L 650.088 236.556 L 656.298 225.972 L 662.508 222.444 L 668.718 218.916 L 674.928 222.444 L 681.138 215.388 L 687.348 208.332 L 693.558 197.748 L 699.768 176.58 L 705.978 151.884 L 712.188 137.772 L 718.398 134.244 L 724.608 130.716 L 730.818 137.772 L 737.028 148.356 L 743.238 151.884  " clip-path="url(#p2181c71e52)" style="fill: none; stroke: #3a444c; stroke-width: 0.792; stroke-linecap: square"/> </g> <g id="line2d_44"> <path d="M 246.438 130.716 L 252.648 134.244 L 258.858 137.772 L 265.068 134.244 L 271.278 136.008 L 277.488 139.536 L 283.698 143.064 L 289.908 143.064 L 296.118 146.592 L 302.328 150.12 L 308.538 153.648 L 314.748 157.176 L 320.958 162.468 L 327.168 171.288 L 333.378 180.108 L 339.588 188.928 L 345.798 201.276 L 352.008 213.624 L 358.218 225.972 L 364.428 238.32 L 370.638 247.14 L 376.848 254.196 L 383.058 261.252 L 389.268 268.308 L 395.478 275.364 L 401.688 277.128 L 407.898 277.128 L 414.108 287.712 L 420.318 293.004 L 426.528 296.532 L 432.738 305.352 L 438.948 308.88 L 445.158 312.408 L 451.368 314.172 L 457.578 307.116 L 463.788 305.352 L 469.998 301.824 L 476.208 289.476 L 482.418 282.42 L 488.628 275.364 L 494.838 266.544 L 501.048 263.016 L 507.258 257.724 L 513.468 254.196 L 519.678 255.96 L 525.888 254.196 L 532.098 254.196 L 538.308 255.96 L 544.518 257.724 L 550.728 261.252 L 556.938 266.544 L 563.148 271.836 L 569.358 271.836 L 575.568 270.072 L 581.778 268.308 L 587.988 266.544 L 594.198 266.544 L 600.408 264.78 L 606.618 263.016 L 612.828 259.488 L 619.038 250.668 L 625.248 247.14 L 631.458 245.376 L 637.668 245.376 L 643.878 241.848 L 650.088 241.848 L 656.298 236.556 L 662.508 233.028 L 668.718 231.264 L 674.928 229.5 L 681.138 225.972 L 687.348 217.152 L 693.558 210.096 L 699.768 197.748 L 705.978 187.164 L 712.188 176.58 L 718.398 171.288 L 724.608 164.232 L 730.818 157.176 L 737.028 150.12 L 743.238 144.828  " clip-path="url(#p2181c71e52)" style="fill: none; stroke: #f09a50; stroke-width: 0.72; stroke-linecap: square"/> </g> <g id="line2d_45"> <path d="M 308.538 142.182 L 314.748 145.71 L 320.958 150.12 L 327.168 152.766 L 333.378 158.058 L 339.588 164.232 L 345.798 172.17 L 352.008 178.344 L 358.218 186.282 L 364.428 194.22 L 370.638 200.394 L 376.848 205.686 L 383.058 211.86 L 389.268 219.798 L 395.478 227.736 L 401.688 233.028 L 407.898 239.202 L 414.108 250.668 L 420.318 259.488 L 426.528 267.426 L 432.738 276.246 L 438.948 281.538 L 445.158 286.83 L 451.368 291.24 L 457.578 291.24 L 463.788 291.24 L 469.998 289.476 L 476.208 288.594 L 482.418 287.712 L 488.628 285.948 L 494.838 285.948 L 501.048 285.948 L 507.258 285.066 L 513.468 284.184 L 519.678 281.538 L 525.888 279.774 L 532.098 278.01 L 538.308 272.718 L 544.518 270.072 L 550.728 268.308 L 556.938 266.544 L 563.148 267.426 L 569.358 264.78 L 575.568 262.134 L 581.778 262.134 L 587.988 260.37 L 594.198 260.37 L 600.408 260.37 L 606.618 260.37 L 612.828 260.37 L 619.038 258.606 L 625.248 259.488 L 631.458 258.606 L 637.668 257.724 L 643.878 255.078 L 650.088 254.196 L 656.298 251.55 L 662.508 248.904 L 668.718 247.14 L 674.928 244.494 L 681.138 238.32 L 687.348 232.146 L 693.558 227.736 L 699.768 221.562 L 705.978 214.506 L 712.188 209.214 L 718.398 203.922 L 724.608 198.63 L 730.818 194.22 L 737.028 189.81 L 743.238 185.4  " clip-path="url(#p2181c71e52)" style="fill: none; stroke: #6c6c6c; stroke-width: 0.936; stroke-linecap: square"/> </g> <g id="LineCollection_1"> <path d="M 190.548 106.02 L 190.548 88.38  " clip-path="url(#p2181c71e52)" style="fill: none; stroke: #333333; stroke-width: 0.792"/> <path d="M 196.758 141.3 L 196.758 88.38  " clip-path="url(#p2181c71e52)" style="fill: none; stroke: #333333; stroke-width: 0.792"/> <path d="M 202.968 176.58 L 202.968 106.02  " clip-path="url(#p2181c71e52)" style="fill: none; stroke: #333333; stroke-width: 0.792"/> <path d="M 209.178 158.94 L 209.178 123.66  " clip-path="url(#p2181c71e52)" style="fill: none; stroke: #333333; stroke-width: 0.792"/> <path d="M 215.388 141.3 L 215.388 123.66  " clip-path="url(#p2181c71e52)" style="fill: none; stroke: #333333; stroke-width: 0.792"/> <path d="M 221.598 158.94 L 221.598 123.66  " clip-path="url(#p2181c71e52)" style="fill: none; stroke: #333333; stroke-width: 0.792"/> <path d="M 227.808 158.94 L 227.808 106.02  " clip-path="url(#p2181c71e52)" style="fill: none; stroke: #333333; stroke-width: 0.792"/> <path d="M 234.018 158.94 L 234.018 88.38  " clip-path="url(#p2181c71e52)" style="fill: none; stroke: #333333; stroke-width: 0.792"/> <path d="M 240.228 141.3 L 240.228 88.38  " clip-path="url(#p2181c71e52)" style="fill: none; stroke: #333333; stroke-width: 0.792"/> <path d="M 246.438 141.3 L 246.438 123.66  " clip-path="url(#p2181c71e52)" style="fill: none; stroke: #333333; stroke-width: 0.792"/> <path d="M 252.648 158.94 L 252.648 123.66  " clip-path="url(#p2181c71e52)" style="fill: none; stroke: #333333; stroke-width: 0.792"/> <path d="M 258.858 141.3 L 258.858 106.02  " clip-path="url(#p2181c71e52)" style="fill: none; stroke: #333333; stroke-width: 0.792"/> <path d="M 265.068 141.3 L 265.068 106.02  " clip-path="url(#p2181c71e52)" style="fill: none; stroke: #333333; stroke-width: 0.792"/> <path d="M 271.278 158.94 L 271.278 106.02  " clip-path="url(#p2181c71e52)" style="fill: none; stroke: #333333; stroke-width: 0.792"/> <path d="M 277.488 176.58 L 277.488 141.3  " clip-path="url(#p2181c71e52)" style="fill: none; stroke: #333333; stroke-width: 0.792"/> <path d="M 283.698 176.58 L 283.698 141.3  " clip-path="url(#p2181c71e52)" style="fill: none; stroke: #333333; stroke-width: 0.792"/> <path d="M 289.908 176.58 L 289.908 123.66  " clip-path="url(#p2181c71e52)" style="fill: none; stroke: #333333; stroke-width: 0.792"/> <path d="M 296.118 141.3 L 296.118 123.66  " clip-path="url(#p2181c71e52)" style="fill: none; stroke: #333333; stroke-width: 0.792"/> <path d="M 302.328 158.94 L 302.328 123.66  " clip-path="url(#p2181c71e52)" style="fill: none; stroke: #333333; stroke-width: 0.792"/> <path d="M 308.538 176.58 L 308.538 141.3  " clip-path="url(#p2181c71e52)" style="fill: none; stroke: #333333; stroke-width: 0.792"/> <path d="M 314.748 176.58 L 314.748 141.3  " clip-path="url(#p2181c71e52)" style="fill: none; stroke: #333333; stroke-width: 0.792"/> <path d="M 320.958 194.22 L 320.958 176.58  " clip-path="url(#p2181c71e52)" style="fill: none; stroke: #333333; stroke-width: 0.792"/> <path d="M 327.168 211.86 L 327.168 194.22  " clip-path="url(#p2181c71e52)" style="fill: none; stroke: #333333; stroke-width: 0.792"/> <path d="M 333.378 247.14 L 333.378 211.86  " clip-path="url(#p2181c71e52)" style="fill: none; stroke: #333333; stroke-width: 0.792"/> <path d="M 339.588 264.78 L 339.588 229.5  " clip-path="url(#p2181c71e52)" style="fill: none; stroke: #333333; stroke-width: 0.792"/> <path d="M 345.798 317.7 L 345.798 264.78  " clip-path="url(#p2181c71e52)" style="fill: none; stroke: #333333; stroke-width: 0.792"/> <path d="M 352.008 317.7 L 352.008 264.78  " clip-path="url(#p2181c71e52)" style="fill: none; stroke: #333333; stroke-width: 0.792"/> <path d="M 358.218 300.06 L 358.218 247.14  " clip-path="url(#p2181c71e52)" style="fill: none; stroke: #333333; stroke-width: 0.792"/> <path d="M 364.428 300.06 L 364.428 264.78  " clip-path="url(#p2181c71e52)" style="fill: none; stroke: #333333; stroke-width: 0.792"/> <path d="M 370.638 282.42 L 370.638 229.5  " clip-path="url(#p2181c71e52)" style="fill: none; stroke: #333333; stroke-width: 0.792"/> <path d="M 376.848 264.78 L 376.848 247.14  " clip-path="url(#p2181c71e52)" style="fill: none; stroke: #333333; stroke-width: 0.792"/> <path d="M 383.058 282.42 L 383.058 229.5  " clip-path="url(#p2181c71e52)" style="fill: none; stroke: #333333; stroke-width: 0.792"/> <path d="M 389.268 282.42 L 389.268 247.14  " clip-path="url(#p2181c71e52)" style="fill: none; stroke: #333333; stroke-width: 0.792"/> <path d="M 395.478 317.7 L 395.478 247.14  " clip-path="url(#p2181c71e52)" style="fill: none; stroke: #333333; stroke-width: 0.792"/> <path d="M 401.688 317.7 L 401.688 264.78  " clip-path="url(#p2181c71e52)" style="fill: none; stroke: #333333; stroke-width: 0.792"/> <path d="M 407.898 317.7 L 407.898 264.78  " clip-path="url(#p2181c71e52)" style="fill: none; stroke: #333333; stroke-width: 0.792"/> <path d="M 414.108 370.62 L 414.108 264.78  " clip-path="url(#p2181c71e52)" style="fill: none; stroke: #333333; stroke-width: 0.792"/> <path d="M 420.318 370.62 L 420.318 300.06  " clip-path="url(#p2181c71e52)" style="fill: none; stroke: #333333; stroke-width: 0.792"/> <path d="M 426.528 335.34 L 426.528 282.42  " clip-path="url(#p2181c71e52)" style="fill: none; stroke: #333333; stroke-width: 0.792"/> <path d="M 432.738 352.98 L 432.738 317.7  " clip-path="url(#p2181c71e52)" style="fill: none; stroke: #333333; stroke-width: 0.792"/> <path d="M 438.948 352.98 L 438.948 264.78  " clip-path="url(#p2181c71e52)" style="fill: none; stroke: #333333; stroke-width: 0.792"/> <path d="M 445.158 317.7 L 445.158 264.78  " clip-path="url(#p2181c71e52)" style="fill: none; stroke: #333333; stroke-width: 0.792"/> <path d="M 451.368 300.06 L 451.368 264.78  " clip-path="url(#p2181c71e52)" style="fill: none; stroke: #333333; stroke-width: 0.792"/> <path d="M 457.578 300.06 L 457.578 247.14  " clip-path="url(#p2181c71e52)" style="fill: none; stroke: #333333; stroke-width: 0.792"/> <path d="M 463.788 282.42 L 463.788 247.14  " clip-path="url(#p2181c71e52)" style="fill: none; stroke: #333333; stroke-width: 0.792"/> <path d="M 469.998 264.78 L 469.998 229.5  " clip-path="url(#p2181c71e52)" style="fill: none; stroke: #333333; stroke-width: 0.792"/> <path d="M 476.208 282.42 L 476.208 229.5  " clip-path="url(#p2181c71e52)" style="fill: none; stroke: #333333; stroke-width: 0.792"/> <path d="M 482.418 282.42 L 482.418 247.14  " clip-path="url(#p2181c71e52)" style="fill: none; stroke: #333333; stroke-width: 0.792"/> <path d="M 488.628 282.42 L 488.628 229.5  " clip-path="url(#p2181c71e52)" style="fill: none; stroke: #333333; stroke-width: 0.792"/> <path d="M 494.838 264.78 L 494.838 194.22  " clip-path="url(#p2181c71e52)" style="fill: none; stroke: #333333; stroke-width: 0.792"/> <path d="M 501.048 264.78 L 501.048 229.5  " clip-path="url(#p2181c71e52)" style="fill: none; stroke: #333333; stroke-width: 0.792"/> <path d="M 507.258 264.78 L 507.258 211.86  " clip-path="url(#p2181c71e52)" style="fill: none; stroke: #333333; stroke-width: 0.792"/> <path d="M 513.468 264.78 L 513.468 211.86  " clip-path="url(#p2181c71e52)" style="fill: none; stroke: #333333; stroke-width: 0.792"/> <path d="M 519.678 264.78 L 519.678 229.5  " clip-path="url(#p2181c71e52)" style="fill: none; stroke: #333333; stroke-width: 0.792"/> <path d="M 525.888 282.42 L 525.888 229.5  " clip-path="url(#p2181c71e52)" style="fill: none; stroke: #333333; stroke-width: 0.792"/> <path d="M 532.098 264.78 L 532.098 229.5  " clip-path="url(#p2181c71e52)" style="fill: none; stroke: #333333; stroke-width: 0.792"/> <path d="M 538.308 264.78 L 538.308 229.5  " clip-path="url(#p2181c71e52)" style="fill: none; stroke: #333333; stroke-width: 0.792"/> <path d="M 544.518 264.78 L 544.518 229.5  " clip-path="url(#p2181c71e52)" style="fill: none; stroke: #333333; stroke-width: 0.792"/> <path d="M 550.728 300.06 L 550.728 247.14  " clip-path="url(#p2181c71e52)" style="fill: none; stroke: #333333; stroke-width: 0.792"/> <path d="M 556.938 335.34 L 556.938 264.78  " clip-path="url(#p2181c71e52)" style="fill: none; stroke: #333333; stroke-width: 0.792"/> <path d="M 563.148 317.7 L 563.148 282.42  " clip-path="url(#p2181c71e52)" style="fill: none; stroke: #333333; stroke-width: 0.792"/> <path d="M 569.358 300.06 L 569.358 229.5  " clip-path="url(#p2181c71e52)" style="fill: none; stroke: #333333; stroke-width: 0.792"/> <path d="M 575.568 264.78 L 575.568 229.5  " clip-path="url(#p2181c71e52)" style="fill: none; stroke: #333333; stroke-width: 0.792"/> <path d="M 581.778 247.14 L 581.778 211.86  " clip-path="url(#p2181c71e52)" style="fill: none; stroke: #333333; stroke-width: 0.792"/> <path d="M 587.988 229.5 L 587.988 211.86  " clip-path="url(#p2181c71e52)" style="fill: none; stroke: #333333; stroke-width: 0.792"/> <path d="M 594.198 264.78 L 594.198 211.86  " clip-path="url(#p2181c71e52)" style="fill: none; stroke: #333333; stroke-width: 0.792"/> <path d="M 600.408 282.42 L 600.408 229.5  " clip-path="url(#p2181c71e52)" style="fill: none; stroke: #333333; stroke-width: 0.792"/> <path d="M 606.618 282.42 L 606.618 229.5  " clip-path="url(#p2181c71e52)" style="fill: none; stroke: #333333; stroke-width: 0.792"/> <path d="M 612.828 282.42 L 612.828 229.5  " clip-path="url(#p2181c71e52)" style="fill: none; stroke: #333333; stroke-width: 0.792"/> <path d="M 619.038 264.78 L 619.038 229.5  " clip-path="url(#p2181c71e52)" style="fill: none; stroke: #333333; stroke-width: 0.792"/> <path d="M 625.248 264.78 L 625.248 229.5  " clip-path="url(#p2181c71e52)" style="fill: none; stroke: #333333; stroke-width: 0.792"/> <path d="M 631.458 264.78 L 631.458 229.5  " clip-path="url(#p2181c71e52)" style="fill: none; stroke: #333333; stroke-width: 0.792"/> <path d="M 637.668 247.14 L 637.668 211.86  " clip-path="url(#p2181c71e52)" style="fill: none; stroke: #333333; stroke-width: 0.792"/> <path d="M 643.878 229.5 L 643.878 211.86  " clip-path="url(#p2181c71e52)" style="fill: none; stroke: #333333; stroke-width: 0.792"/> <path d="M 650.088 229.5 L 650.088 194.22  " clip-path="url(#p2181c71e52)" style="fill: none; stroke: #333333; stroke-width: 0.792"/> <path d="M 656.298 229.5 L 656.298 194.22  " clip-path="url(#p2181c71e52)" style="fill: none; stroke: #333333; stroke-width: 0.792"/> <path d="M 662.508 229.5 L 662.508 194.22  " clip-path="url(#p2181c71e52)" style="fill: none; stroke: #333333; stroke-width: 0.792"/> <path d="M 668.718 229.5 L 668.718 194.22  " clip-path="url(#p2181c71e52)" style="fill: none; stroke: #333333; stroke-width: 0.792"/> <path d="M 674.928 229.5 L 674.928 194.22  " clip-path="url(#p2181c71e52)" style="fill: none; stroke: #333333; stroke-width: 0.792"/> <path d="M 681.138 211.86 L 681.138 176.58  " clip-path="url(#p2181c71e52)" style="fill: none; stroke: #333333; stroke-width: 0.792"/> <path d="M 687.348 194.22 L 687.348 158.94  " clip-path="url(#p2181c71e52)" style="fill: none; stroke: #333333; stroke-width: 0.792"/> <path d="M 693.558 176.58 L 693.558 141.3  " clip-path="url(#p2181c71e52)" style="fill: none; stroke: #333333; stroke-width: 0.792"/> <path d="M 699.768 158.94 L 699.768 123.66  " clip-path="url(#p2181c71e52)" style="fill: none; stroke: #333333; stroke-width: 0.792"/> <path d="M 705.978 141.3 L 705.978 106.02  " clip-path="url(#p2181c71e52)" style="fill: none; stroke: #333333; stroke-width: 0.792"/> <path d="M 712.188 123.66 L 712.188 88.38  " clip-path="url(#p2181c71e52)" style="fill: none; stroke: #333333; stroke-width: 0.792"/> <path d="M 718.398 176.58 L 718.398 106.02  " clip-path="url(#p2181c71e52)" style="fill: none; stroke: #333333; stroke-width: 0.792"/> <path d="M 724.608 176.58 L 724.608 141.3  " clip-path="url(#p2181c71e52)" style="fill: none; stroke: #333333; stroke-width: 0.792"/> <path d="M 730.818 158.94 L 730.818 141.3  " clip-path="url(#p2181c71e52)" style="fill: none; stroke: #333333; stroke-width: 0.792"/> <path d="M 737.028 176.58 L 737.028 141.3  " clip-path="url(#p2181c71e52)" style="fill: none; stroke: #333333; stroke-width: 0.792"/> <path d="M 743.238 176.58 L 743.238 141.3  " clip-path="url(#p2181c71e52)" style="fill: none; stroke: #333333; stroke-width: 0.792"/> </g> <g id="patch_94"> <path d="M 188.6229 106.02 L 192.4731 106.02 L 192.4731 88.38 L 188.6229 88.38 z " clip-path="url(#p2181c71e52)" style="fill: #10a56e; stroke: #10a56e; stroke-width: 0.216; stroke-linejoin: miter"/> </g> <g id="patch_95"> <path d="M 194.8329 106.02 L 198.6831 106.02 L 198.6831 88.38 L 194.8329 88.38 z " clip-path="url(#p2181c71e52)" style="fill: #10a56e; stroke: #10a56e; stroke-width: 0.216; stroke-linejoin: miter"/> </g> <g id="patch_96"> <path d="M 201.0429 158.94 L 204.8931 158.94 L 204.8931 123.66 L 201.0429 123.66 z " clip-path="url(#p2181c71e52)" style="fill: #10a56e; stroke: #10a56e; stroke-width: 0.216; stroke-linejoin: miter"/> </g> <g id="patch_97"> <path d="M 207.2529 158.94 L 211.1031 158.94 L 211.1031 141.3 L 207.2529 141.3 z " clip-path="url(#p2181c71e52)" style="fill: #f23c56; stroke: #f23c56; stroke-width: 0.216; stroke-linejoin: miter"/> </g> <g id="line2d_46"> <path d="M 213.4629 141.3 L 217.3131 141.3  " clip-path="url(#p2181c71e52)" style="fill: none; stroke: #10a56e; stroke-width: 0.72"/> </g> <g id="line2d_47"> <path d="M 219.6729 141.3 L 223.5231 141.3  " clip-path="url(#p2181c71e52)" style="fill: none; stroke: #f23c56; stroke-width: 0.72"/> </g> <g id="patch_98"> <path d="M 225.8829 158.94 L 229.7331 158.94 L 229.7331 141.3 L 225.8829 141.3 z " clip-path="url(#p2181c71e52)" style="fill: #f23c56; stroke: #f23c56; stroke-width: 0.216; stroke-linejoin: miter"/> </g> <g id="patch_99"> <path d="M 232.0929 141.3 L 235.9431 141.3 L 235.9431 106.02 L 232.0929 106.02 z " clip-path="url(#p2181c71e52)" style="fill: #f23c56; stroke: #f23c56; stroke-width: 0.216; stroke-linejoin: miter"/> </g> <g id="patch_100"> <path d="M 238.3029 123.66 L 242.1531 123.66 L 242.1531 106.02 L 238.3029 106.02 z " clip-path="url(#p2181c71e52)" style="fill: #10a56e; stroke: #10a56e; stroke-width: 0.216; stroke-linejoin: miter"/> </g> <g id="patch_101"> <path d="M 244.5129 141.3 L 248.3631 141.3 L 248.3631 123.66 L 244.5129 123.66 z " clip-path="url(#p2181c71e52)" style="fill: #10a56e; stroke: #10a56e; stroke-width: 0.216; stroke-linejoin: miter"/> </g> <g id="patch_102"> <path d="M 250.7229 141.3 L 254.5731 141.3 L 254.5731 123.66 L 250.7229 123.66 z " clip-path="url(#p2181c71e52)" style="fill: #10a56e; stroke: #10a56e; stroke-width: 0.216; stroke-linejoin: miter"/> </g> <g id="patch_103"> <path d="M 256.9329 141.3 L 260.7831 141.3 L 260.7831 123.66 L 256.9329 123.66 z " clip-path="url(#p2181c71e52)" style="fill: #10a56e; stroke: #10a56e; stroke-width: 0.216; stroke-linejoin: miter"/> </g> <g id="line2d_48"> <path d="M 263.1429 123.66 L 266.9931 123.66  " clip-path="url(#p2181c71e52)" style="fill: none; stroke: #f23c56; stroke-width: 0.72"/> </g> <g id="patch_104"> <path d="M 269.3529 158.94 L 273.2031 158.94 L 273.2031 123.66 L 269.3529 123.66 z " clip-path="url(#p2181c71e52)" style="fill: #10a56e; stroke: #10a56e; stroke-width: 0.216; stroke-linejoin: miter"/> </g> <g id="patch_105"> <path d="M 275.5629 176.58 L 279.4131 176.58 L 279.4131 158.94 L 275.5629 158.94 z " clip-path="url(#p2181c71e52)" style="fill: #10a56e; stroke: #10a56e; stroke-width: 0.216; stroke-linejoin: miter"/> </g> <g id="line2d_49"> <path d="M 281.7729 176.58 L 285.6231 176.58  " clip-path="url(#p2181c71e52)" style="fill: none; stroke: #f23c56; stroke-width: 0.72"/> </g> <g id="patch_106"> <path d="M 287.9829 176.58 L 291.8331 176.58 L 291.8331 141.3 L 287.9829 141.3 z " clip-path="url(#p2181c71e52)" style="fill: #f23c56; stroke: #f23c56; stroke-width: 0.216; stroke-linejoin: miter"/> </g> <g id="line2d_50"> <path d="M 294.1929 141.3 L 298.0431 141.3  " clip-path="url(#p2181c71e52)" style="fill: none; stroke: #f23c56; stroke-width: 0.72"/> </g> <g id="patch_107"> <path d="M 300.4029 158.94 L 304.2531 158.94 L 304.2531 141.3 L 300.4029 141.3 z " clip-path="url(#p2181c71e52)" style="fill: #10a56e; stroke: #10a56e; stroke-width: 0.216; stroke-linejoin: miter"/> </g> <g id="patch_108"> <path d="M 306.6129 176.58 L 310.4631 176.58 L 310.4631 158.94 L 306.6129 158.94 z " clip-path="url(#p2181c71e52)" style="fill: #10a56e; stroke: #10a56e; stroke-width: 0.216; stroke-linejoin: miter"/> </g> <g id="patch_109"> <path d="M 312.8229 176.58 L 316.6731 176.58 L 316.6731 158.94 L 312.8229 158.94 z " clip-path="url(#p2181c71e52)" style="fill: #10a56e; stroke: #10a56e; stroke-width: 0.216; stroke-linejoin: miter"/> </g> <g id="patch_110"> <path d="M 319.0329 194.22 L 322.8831 194.22 L 322.8831 176.58 L 319.0329 176.58 z " clip-path="url(#p2181c71e52)" style="fill: #10a56e; stroke: #10a56e; stroke-width: 0.216; stroke-linejoin: miter"/> </g> <g id="patch_111"> <path d="M 325.2429 211.86 L 329.0931 211.86 L 329.0931 194.22 L 325.2429 194.22 z " clip-path="url(#p2181c71e52)" style="fill: #10a56e; stroke: #10a56e; stroke-width: 0.216; stroke-linejoin: miter"/> </g> <g id="patch_112"> <path d="M 331.4529 247.14 L 335.3031 247.14 L 335.3031 211.86 L 331.4529 211.86 z " clip-path="url(#p2181c71e52)" style="fill: #10a56e; stroke: #10a56e; stroke-width: 0.216; stroke-linejoin: miter"/> </g> <g id="patch_113"> <path d="M 337.6629 264.78 L 341.5131 264.78 L 341.5131 247.14 L 337.6629 247.14 z " clip-path="url(#p2181c71e52)" style="fill: #10a56e; stroke: #10a56e; stroke-width: 0.216; stroke-linejoin: miter"/> </g> <g id="patch_114"> <path d="M 343.8729 300.06 L 347.7231 300.06 L 347.7231 264.78 L 343.8729 264.78 z " clip-path="url(#p2181c71e52)" style="fill: #10a56e; stroke: #10a56e; stroke-width: 0.216; stroke-linejoin: miter"/> </g> <g id="patch_115"> <path d="M 350.0829 317.7 L 353.9331 317.7 L 353.9331 264.78 L 350.0829 264.78 z " clip-path="url(#p2181c71e52)" style="fill: #f23c56; stroke: #f23c56; stroke-width: 0.216; stroke-linejoin: miter"/> </g> <g id="patch_116"> <path d="M 356.2929 264.78 L 360.1431 264.78 L 360.1431 247.14 L 356.2929 247.14 z " clip-path="url(#p2181c71e52)" style="fill: #10a56e; stroke: #10a56e; stroke-width: 0.216; stroke-linejoin: miter"/> </g> <g id="line2d_51"> <path d="M 362.5029 282.42 L 366.3531 282.42  " clip-path="url(#p2181c71e52)" style="fill: none; stroke: #f23c56; stroke-width: 0.72"/> </g> <g id="line2d_52"> <path d="M 368.7129 264.78 L 372.5631 264.78  " clip-path="url(#p2181c71e52)" style="fill: none; stroke: #f23c56; stroke-width: 0.72"/> </g> <g id="patch_117"> <path d="M 374.9229 264.78 L 378.7731 264.78 L 378.7731 247.14 L 374.9229 247.14 z " clip-path="url(#p2181c71e52)" style="fill: #f23c56; stroke: #f23c56; stroke-width: 0.216; stroke-linejoin: miter"/> </g> <g id="line2d_53"> <path d="M 381.1329 264.78 L 384.9831 264.78  " clip-path="url(#p2181c71e52)" style="fill: none; stroke: #f23c56; stroke-width: 0.72"/> </g> <g id="patch_118"> <path d="M 387.3429 282.42 L 391.1931 282.42 L 391.1931 264.78 L 387.3429 264.78 z " clip-path="url(#p2181c71e52)" style="fill: #10a56e; stroke: #10a56e; stroke-width: 0.216; stroke-linejoin: miter"/> </g> <g id="patch_119"> <path d="M 393.5529 317.7 L 397.4031 317.7 L 397.4031 264.78 L 393.5529 264.78 z " clip-path="url(#p2181c71e52)" style="fill: #10a56e; stroke: #10a56e; stroke-width: 0.216; stroke-linejoin: miter"/> </g> <g id="patch_120"> <path d="M 399.7629 300.06 L 403.6131 300.06 L 403.6131 282.42 L 399.7629 282.42 z " clip-path="url(#p2181c71e52)" style="fill: #f23c56; stroke: #f23c56; stroke-width: 0.216; stroke-linejoin: miter"/> </g> <g id="patch_121"> <path d="M 405.9729 300.06 L 409.8231 300.06 L 409.8231 282.42 L 405.9729 282.42 z " clip-path="url(#p2181c71e52)" style="fill: #10a56e; stroke: #10a56e; stroke-width: 0.216; stroke-linejoin: miter"/> </g> <g id="patch_122"> <path d="M 412.1829 370.62 L 416.0331 370.62 L 416.0331 282.42 L 412.1829 282.42 z " clip-path="url(#p2181c71e52)" style="fill: #10a56e; stroke: #10a56e; stroke-width: 0.216; stroke-linejoin: miter"/> </g> <g id="patch_123"> <path d="M 418.3929 370.62 L 422.2431 370.62 L 422.2431 317.7 L 418.3929 317.7 z " clip-path="url(#p2181c71e52)" style="fill: #f23c56; stroke: #f23c56; stroke-width: 0.216; stroke-linejoin: miter"/> </g> <g id="line2d_54"> <path d="M 424.6029 317.7 L 428.4531 317.7  " clip-path="url(#p2181c71e52)" style="fill: none; stroke: #f23c56; stroke-width: 0.72"/> </g> <g id="patch_124"> <path d="M 430.8129 352.98 L 434.6631 352.98 L 434.6631 335.34 L 430.8129 335.34 z " clip-path="url(#p2181c71e52)" style="fill: #10a56e; stroke: #10a56e; stroke-width: 0.216; stroke-linejoin: miter"/> </g> <g id="patch_125"> <path d="M 437.0229 352.98 L 440.8731 352.98 L 440.8731 282.42 L 437.0229 282.42 z " clip-path="url(#p2181c71e52)" style="fill: #f23c56; stroke: #f23c56; stroke-width: 0.216; stroke-linejoin: miter"/> </g> <g id="patch_126"> <path d="M 443.2329 300.06 L 447.0831 300.06 L 447.0831 264.78 L 443.2329 264.78 z " clip-path="url(#p2181c71e52)" style="fill: #10a56e; stroke: #10a56e; stroke-width: 0.216; stroke-linejoin: miter"/> </g> <g id="patch_127"> <path d="M 449.4429 300.06 L 453.2931 300.06 L 453.2931 282.42 L 449.4429 282.42 z " clip-path="url(#p2181c71e52)" style="fill: #10a56e; stroke: #10a56e; stroke-width: 0.216; stroke-linejoin: miter"/> </g> <g id="patch_128"> <path d="M 455.6529 300.06 L 459.5031 300.06 L 459.5031 247.14 L 455.6529 247.14 z " clip-path="url(#p2181c71e52)" style="fill: #f23c56; stroke: #f23c56; stroke-width: 0.216; stroke-linejoin: miter"/> </g> <g id="patch_129"> <path d="M 461.8629 264.78 L 465.7131 264.78 L 465.7131 247.14 L 461.8629 247.14 z " clip-path="url(#p2181c71e52)" style="fill: #10a56e; stroke: #10a56e; stroke-width: 0.216; stroke-linejoin: miter"/> </g> <g id="line2d_55"> <path d="M 468.0729 264.78 L 471.9231 264.78  " clip-path="url(#p2181c71e52)" style="fill: none; stroke: #f23c56; stroke-width: 0.72"/> </g> <g id="line2d_56"> <path d="M 474.2829 247.14 L 478.1331 247.14  " clip-path="url(#p2181c71e52)" style="fill: none; stroke: #f23c56; stroke-width: 0.72"/> </g> <g id="line2d_57"> <path d="M 480.4929 247.14 L 484.3431 247.14  " clip-path="url(#p2181c71e52)" style="fill: none; stroke: #f23c56; stroke-width: 0.72"/> </g> <g id="patch_130"> <path d="M 486.7029 264.78 L 490.5531 264.78 L 490.5531 247.14 L 486.7029 247.14 z " clip-path="url(#p2181c71e52)" style="fill: #f23c56; stroke: #f23c56; stroke-width: 0.216; stroke-linejoin: miter"/> </g> <g id="patch_131"> <path d="M 492.9129 264.78 L 496.7631 264.78 L 496.7631 229.5 L 492.9129 229.5 z " clip-path="url(#p2181c71e52)" style="fill: #10a56e; stroke: #10a56e; stroke-width: 0.216; stroke-linejoin: miter"/> </g> <g id="line2d_58"> <path d="M 499.1229 247.14 L 502.9731 247.14  " clip-path="url(#p2181c71e52)" style="fill: none; stroke: #f23c56; stroke-width: 0.72"/> </g> <g id="line2d_59"> <path d="M 505.3329 247.14 L 509.1831 247.14  " clip-path="url(#p2181c71e52)" style="fill: none; stroke: #f23c56; stroke-width: 0.72"/> </g> <g id="patch_132"> <path d="M 511.5429 264.78 L 515.3931 264.78 L 515.3931 247.14 L 511.5429 247.14 z " clip-path="url(#p2181c71e52)" style="fill: #10a56e; stroke: #10a56e; stroke-width: 0.216; stroke-linejoin: miter"/> </g> <g id="patch_133"> <path d="M 517.7529 264.78 L 521.6031 264.78 L 521.6031 247.14 L 517.7529 247.14 z " clip-path="url(#p2181c71e52)" style="fill: #10a56e; stroke: #10a56e; stroke-width: 0.216; stroke-linejoin: miter"/> </g> <g id="patch_134"> <path d="M 523.9629 264.78 L 527.8131 264.78 L 527.8131 247.14 L 523.9629 247.14 z " clip-path="url(#p2181c71e52)" style="fill: #f23c56; stroke: #f23c56; stroke-width: 0.216; stroke-linejoin: miter"/> </g> <g id="patch_135"> <path d="M 530.1729 264.78 L 534.0231 264.78 L 534.0231 229.5 L 530.1729 229.5 z " clip-path="url(#p2181c71e52)" style="fill: #10a56e; stroke: #10a56e; stroke-width: 0.216; stroke-linejoin: miter"/> </g> <g id="line2d_60"> <path d="M 536.3829 264.78 L 540.2331 264.78  " clip-path="url(#p2181c71e52)" style="fill: none; stroke: #f23c56; stroke-width: 0.72"/> </g> <g id="line2d_61"> <path d="M 542.5929 264.78 L 546.4431 264.78  " clip-path="url(#p2181c71e52)" style="fill: none; stroke: #f23c56; stroke-width: 0.72"/> </g> <g id="patch_136"> <path d="M 548.8029 282.42 L 552.6531 282.42 L 552.6531 264.78 L 548.8029 264.78 z " clip-path="url(#p2181c71e52)" style="fill: #10a56e; stroke: #10a56e; stroke-width: 0.216; stroke-linejoin: miter"/> </g> <g id="patch_137"> <path d="M 555.0129 317.7 L 558.8631 317.7 L 558.8631 282.42 L 555.0129 282.42 z " clip-path="url(#p2181c71e52)" style="fill: #10a56e; stroke: #10a56e; stroke-width: 0.216; stroke-linejoin: miter"/> </g> <g id="patch_138"> <path d="M 561.2229 317.7 L 565.0731 317.7 L 565.0731 300.06 L 561.2229 300.06 z " clip-path="url(#p2181c71e52)" style="fill: #f23c56; stroke: #f23c56; stroke-width: 0.216; stroke-linejoin: miter"/> </g> <g id="patch_139"> <path d="M 567.4329 300.06 L 571.2831 300.06 L 571.2831 247.14 L 567.4329 247.14 z " clip-path="url(#p2181c71e52)" style="fill: #f23c56; stroke: #f23c56; stroke-width: 0.216; stroke-linejoin: miter"/> </g> <g id="line2d_62"> <path d="M 573.6429 247.14 L 577.4931 247.14  " clip-path="url(#p2181c71e52)" style="fill: none; stroke: #f23c56; stroke-width: 0.72"/> </g> <g id="patch_140"> <path d="M 579.8529 247.14 L 583.7031 247.14 L 583.7031 229.5 L 579.8529 229.5 z " clip-path="url(#p2181c71e52)" style="fill: #10a56e; stroke: #10a56e; stroke-width: 0.216; stroke-linejoin: miter"/> </g> <g id="line2d_63"> <path d="M 586.0629 229.5 L 589.9131 229.5  " clip-path="url(#p2181c71e52)" style="fill: none; stroke: #f23c56; stroke-width: 0.72"/> </g> <g id="patch_141"> <path d="M 592.2729 264.78 L 596.1231 264.78 L 596.1231 211.86 L 592.2729 211.86 z " clip-path="url(#p2181c71e52)" style="fill: #10a56e; stroke: #10a56e; stroke-width: 0.216; stroke-linejoin: miter"/> </g> <g id="line2d_64"> <path d="M 598.4829 247.14 L 602.3331 247.14  " clip-path="url(#p2181c71e52)" style="fill: none; stroke: #f23c56; stroke-width: 0.72"/> </g> <g id="line2d_65"> <path d="M 604.6929 247.14 L 608.5431 247.14  " clip-path="url(#p2181c71e52)" style="fill: none; stroke: #f23c56; stroke-width: 0.72"/> </g> <g id="patch_142"> <path d="M 610.9029 264.78 L 614.7531 264.78 L 614.7531 247.14 L 610.9029 247.14 z " clip-path="url(#p2181c71e52)" style="fill: #f23c56; stroke: #f23c56; stroke-width: 0.216; stroke-linejoin: miter"/> </g> <g id="patch_143"> <path d="M 617.1129 264.78 L 620.9631 264.78 L 620.9631 229.5 L 617.1129 229.5 z " clip-path="url(#p2181c71e52)" style="fill: #f23c56; stroke: #f23c56; stroke-width: 0.216; stroke-linejoin: miter"/> </g> <g id="patch_144"> <path d="M 623.3229 264.78 L 627.1731 264.78 L 627.1731 247.14 L 623.3229 247.14 z " clip-path="url(#p2181c71e52)" style="fill: #10a56e; stroke: #10a56e; stroke-width: 0.216; stroke-linejoin: miter"/> </g> <g id="patch_145"> <path d="M 629.5329 247.14 L 633.3831 247.14 L 633.3831 229.5 L 629.5329 229.5 z " clip-path="url(#p2181c71e52)" style="fill: #f23c56; stroke: #f23c56; stroke-width: 0.216; stroke-linejoin: miter"/> </g> <g id="line2d_66"> <path d="M 635.7429 247.14 L 639.5931 247.14  " clip-path="url(#p2181c71e52)" style="fill: none; stroke: #f23c56; stroke-width: 0.72"/> </g> <g id="patch_146"> <path d="M 641.9529 229.5 L 645.8031 229.5 L 645.8031 211.86 L 641.9529 211.86 z " clip-path="url(#p2181c71e52)" style="fill: #f23c56; stroke: #f23c56; stroke-width: 0.216; stroke-linejoin: miter"/> </g> <g id="line2d_67"> <path d="M 648.1629 229.5 L 652.0131 229.5  " clip-path="url(#p2181c71e52)" style="fill: none; stroke: #f23c56; stroke-width: 0.72"/> </g> <g id="patch_147"> <path d="M 654.3729 229.5 L 658.2231 229.5 L 658.2231 211.86 L 654.3729 211.86 z " clip-path="url(#p2181c71e52)" style="fill: #f23c56; stroke: #f23c56; stroke-width: 0.216; stroke-linejoin: miter"/> </g> <g id="line2d_68"> <path d="M 660.5829 211.86 L 664.4331 211.86  " clip-path="url(#p2181c71e52)" style="fill: none; stroke: #f23c56; stroke-width: 0.72"/> </g> <g id="patch_148"> <path d="M 666.7929 229.5 L 670.6431 229.5 L 670.6431 194.22 L 666.7929 194.22 z " clip-path="url(#p2181c71e52)" style="fill: #10a56e; stroke: #10a56e; stroke-width: 0.216; stroke-linejoin: miter"/> </g> <g id="line2d_69"> <path d="M 673.0029 229.5 L 676.8531 229.5  " clip-path="url(#p2181c71e52)" style="fill: none; stroke: #f23c56; stroke-width: 0.72"/> </g> <g id="patch_149"> <path d="M 679.2129 211.86 L 683.0631 211.86 L 683.0631 194.22 L 679.2129 194.22 z " clip-path="url(#p2181c71e52)" style="fill: #f23c56; stroke: #f23c56; stroke-width: 0.216; stroke-linejoin: miter"/> </g> <g id="line2d_70"> <path d="M 685.4229 176.58 L 689.2731 176.58  " clip-path="url(#p2181c71e52)" style="fill: none; stroke: #f23c56; stroke-width: 0.72"/> </g> <g id="patch_150"> <path d="M 691.6329 176.58 L 695.4831 176.58 L 695.4831 158.94 L 691.6329 158.94 z " clip-path="url(#p2181c71e52)" style="fill: #f23c56; stroke: #f23c56; stroke-width: 0.216; stroke-linejoin: miter"/> </g> <g id="patch_151"> <path d="M 697.8429 141.3 L 701.6931 141.3 L 701.6931 123.66 L 697.8429 123.66 z " clip-path="url(#p2181c71e52)" style="fill: #f23c56; stroke: #f23c56; stroke-width: 0.216; stroke-linejoin: miter"/> </g> <g id="patch_152"> <path d="M 704.0529 141.3 L 707.9031 141.3 L 707.9031 106.02 L 704.0529 106.02 z " clip-path="url(#p2181c71e52)" style="fill: #f23c56; stroke: #f23c56; stroke-width: 0.216; stroke-linejoin: miter"/> </g> <g id="patch_153"> <path d="M 710.2629 123.66 L 714.1131 123.66 L 714.1131 106.02 L 710.2629 106.02 z " clip-path="url(#p2181c71e52)" style="fill: #10a56e; stroke: #10a56e; stroke-width: 0.216; stroke-linejoin: miter"/> </g> <g id="patch_154"> <path d="M 716.4729 158.94 L 720.3231 158.94 L 720.3231 106.02 L 716.4729 106.02 z " clip-path="url(#p2181c71e52)" style="fill: #10a56e; stroke: #10a56e; stroke-width: 0.216; stroke-linejoin: miter"/> </g> <g id="line2d_71"> <path d="M 722.6829 141.3 L 726.5331 141.3  " clip-path="url(#p2181c71e52)" style="fill: none; stroke: #f23c56; stroke-width: 0.72"/> </g> <g id="line2d_72"> <path d="M 728.8929 158.94 L 732.7431 158.94  " clip-path="url(#p2181c71e52)" style="fill: none; stroke: #f23c56; stroke-width: 0.72"/> </g> <g id="patch_155"> <path d="M 735.1029 158.94 L 738.9531 158.94 L 738.9531 141.3 L 735.1029 141.3 z " clip-path="url(#p2181c71e52)" style="fill: #10a56e; stroke: #10a56e; stroke-width: 0.216; stroke-linejoin: miter"/> </g> <g id="patch_156"> <path d="M 741.3129 158.94 L 745.1631 158.94 L 745.1631 141.3 L 741.3129 141.3 z " clip-path="url(#p2181c71e52)" style="fill: #f23c56; stroke: #f23c56; stroke-width: 0.216; stroke-linejoin: miter"/> </g> </g> <g id="text_17"> <!-- CRVUSDT 5m 26.0 --> <g transform="translate(358.606125 16.416) scale(0.144 -0.135360)" stroke="#111111" stroke-width="112.00"> <defs> <path id="DejaVuSans-Bold-43" d="M 4288 256 Q 3956 84 3597 -3 Q 3238 -91 2847 -91 Q 1681 -91 1000 561 Q 319 1213 319 2328 Q 319 3447 1000 4098 Q 1681 4750 2847 4750 Q 3238 4750 3597 4662 Q 3956 4575 4288 4403 L 4288 3438 Q 3953 3666 3628 3772 Q 3303 3878 2944 3878 Q 2300 3878 1931 3465 Q 1563 3053 1563 2328 Q 1563 1606 1931 1193 Q 2300 781 2944 781 Q 3303 781 3628 887 Q 3953 994 4288 1222 L 4288 256 z " transform="scale(0.015625)"/> <path id="DejaVuSans-Bold-52" d="M 2297 2597 Q 2675 2597 2839 2737 Q 3003 2878 3003 3200 Q 3003 3519 2839 3656 Q 2675 3794 2297 3794 L 1791 3794 L 1791 2597 L 2297 2597 z M 1791 1766 L 1791 0 L 588 0 L 588 4666 L 2425 4666 Q 3347 4666 3776 4356 Q 4206 4047 4206 3378 Q 4206 2916 3982 2619 Q 3759 2322 3309 2181 Q 3556 2125 3751 1926 Q 3947 1728 4147 1325 L 4800 0 L 3519 0 L 2950 1159 Q 2778 1509 2601 1637 Q 2425 1766 2131 1766 L 1791 1766 z " transform="scale(0.015625)"/> <path id="DejaVuSans-Bold-56" d="M 31 4666 L 1241 4666 L 2478 1222 L 3713 4666 L 4922 4666 L 3194 0 L 1759 0 L 31 4666 z " transform="scale(0.015625)"/> <path id="DejaVuSans-Bold-55" d="M 588 4666 L 1791 4666 L 1791 1869 Q 1791 1291 1980 1042 Q 2169 794 2597 794 Q 3028 794 3217 1042 Q 3406 1291 3406 1869 L 3406 4666 L 4609 4666 L 4609 1869 Q 4609 878 4112 393 Q 3616 -91 2597 -91 Q 1581 -91 1084 393 Q 588 878 588 1869 L 588 4666 z " transform="scale(0.015625)"/> <path id="DejaVuSans-Bold-53" d="M 3834 4519 L 3834 3531 Q 3450 3703 3084 3790 Q 2719 3878 2394 3878 Q 1963 3878 1756 3759 Q 1550 3641 1550 3391 Q 1550 3203 1689 3098 Q 1828 2994 2194 2919 L 2706 2816 Q 3484 2659 3812 2340 Q 4141 2022 4141 1434 Q 4141 663 3683 286 Q 3225 -91 2284 -91 Q 1841 -91 1394 -6 Q 947 78 500 244 L 500 1259 Q 947 1022 1364 901 Q 1781 781 2169 781 Q 2563 781 2772 912 Q 2981 1044 2981 1288 Q 2981 1506 2839 1625 Q 2697 1744 2272 1838 L 1806 1941 Q 1106 2091 782 2419 Q 459 2747 459 3303 Q 459 4000 909 4375 Q 1359 4750 2203 4750 Q 2588 4750 2994 4692 Q 3400 4634 3834 4519 z " transform="scale(0.015625)"/> <path id="DejaVuSans-Bold-44" d="M 1791 3756 L 1791 909 L 2222 909 Q 2959 909 3348 1275 Q 3738 1641 3738 2338 Q 3738 3031 3350 3393 Q 2963 3756 2222 3756 L 1791 3756 z M 588 4666 L 1856 4666 Q 2919 4666 3439 4514 Q 3959 4363 4331 4000 Q 4659 3684 4818 3271 Q 4978 2859 4978 2338 Q 4978 1809 4818 1395 Q 4659 981 4331 666 Q 3956 303 3431 151 Q 2906 0 1856 0 L 588 0 L 588 4666 z " transform="scale(0.015625)"/> <path id="DejaVuSans-Bold-54" d="M 31 4666 L 4331 4666 L 4331 3756 L 2784 3756 L 2784 0 L 1581 0 L 1581 3756 L 31 3756 L 31 4666 z " transform="scale(0.015625)"/> <path id="DejaVuSans-Bold-20" transform="scale(0.015625)"/> <path id="DejaVuSans-Bold-35" d="M 678 4666 L 3669 4666 L 3669 3781 L 1638 3781 L 1638 3059 Q 1775 3097 1914 3117 Q 2053 3138 2203 3138 Q 3056 3138 3531 2711 Q 4006 2284 4006 1522 Q 4006 766 3489 337 Q 2972 -91 2053 -91 Q 1656 -91 1267 -14 Q 878 63 494 219 L 494 1166 Q 875 947 1217 837 Q 1559 728 1863 728 Q 2300 728 2551 942 Q 2803 1156 2803 1522 Q 2803 1891 2551 2103 Q 2300 2316 1863 2316 Q 1603 2316 1309 2248 Q 1016 2181 678 2041 L 678 4666 z " transform="scale(0.015625)"/> <path id="DejaVuSans-Bold-6d" d="M 3781 2919 Q 3994 3244 4286 3414 Q 4578 3584 4928 3584 Q 5531 3584 5847 3212 Q 6163 2841 6163 2131 L 6163 0 L 5038 0 L 5038 1825 Q 5041 1866 5042 1909 Q 5044 1953 5044 2034 Q 5044 2406 4934 2573 Q 4825 2741 4581 2741 Q 4263 2741 4089 2478 Q 3916 2216 3909 1719 L 3909 0 L 2784 0 L 2784 1825 Q 2784 2406 2684 2573 Q 2584 2741 2328 2741 Q 2006 2741 1831 2477 Q 1656 2213 1656 1722 L 1656 0 L 531 0 L 531 3500 L 1656 3500 L 1656 2988 Q 1863 3284 2130 3434 Q 2397 3584 2719 3584 Q 3081 3584 3359 3409 Q 3638 3234 3781 2919 z " transform="scale(0.015625)"/> <path id="DejaVuSans-Bold-32" d="M 1844 884 L 3897 884 L 3897 0 L 506 0 L 506 884 L 2209 2388 Q 2438 2594 2547 2791 Q 2656 2988 2656 3200 Q 2656 3528 2436 3728 Q 2216 3928 1850 3928 Q 1569 3928 1234 3808 Q 900 3688 519 3450 L 519 4475 Q 925 4609 1322 4679 Q 1719 4750 2100 4750 Q 2938 4750 3402 4381 Q 3866 4013 3866 3353 Q 3866 2972 3669 2642 Q 3472 2313 2841 1759 L 1844 884 z " transform="scale(0.015625)"/> <path id="DejaVuSans-Bold-36" d="M 2316 2303 Q 2000 2303 1842 2098 Q 1684 1894 1684 1484 Q 1684 1075 1842 870 Q 2000 666 2316 666 Q 2634 666 2792 870 Q 2950 1075 2950 1484 Q 2950 1894 2792 2098 Q 2634 2303 2316 2303 z M 3803 4544 L 3803 3681 Q 3506 3822 3243 3889 Q 2981 3956 2731 3956 Q 2194 3956 1894 3657 Q 1594 3359 1544 2772 Q 1750 2925 1990 3001 Q 2231 3078 2516 3078 Q 3231 3078 3670 2659 Q 4109 2241 4109 1563 Q 4109 813 3618 361 Q 3128 -91 2303 -91 Q 1394 -91 895 523 Q 397 1138 397 2266 Q 397 3422 980 4083 Q 1563 4744 2578 4744 Q 2900 4744 3203 4694 Q 3506 4644 3803 4544 z " transform="scale(0.015625)"/> <path id="DejaVuSans-Bold-2e" d="M 653 1209 L 1778 1209 L 1778 0 L 653 0 L 653 1209 z " transform="scale(0.015625)"/> <path id="DejaVuSans-Bold-30" d="M 2944 2338 Q 2944 3213 2780 3570 Q 2616 3928 2228 3928 Q 1841 3928 1675 3570 Q 1509 3213 1509 2338 Q 1509 1453 1675 1090 Q 1841 728 2228 728 Q 2613 728 2778 1090 Q 2944 1453 2944 2338 z M 4147 2328 Q 4147 1169 3647 539 Q 3147 -91 2228 -91 Q 1306 -91 806 539 Q 306 1169 306 2328 Q 306 3491 806 4120 Q 1306 4750 2228 4750 Q 3147 4750 3647 4120 Q 4147 3491 4147 2328 z " transform="scale(0.015625)"/> </defs> <use href="#DejaVuSans-Bold-43"/> <use href="#DejaVuSans-Bold-52" transform="translate(73.388672 0)"/> <use href="#DejaVuSans-Bold-56" transform="translate(150.390625 0)"/> <use href="#DejaVuSans-Bold-55" transform="translate(227.783203 0)"/> <use href="#DejaVuSans-Bold-53" transform="translate(308.984375 0)"/> <use href="#DejaVuSans-Bold-44" transform="translate(381.005859 0)"/> <use href="#DejaVuSans-Bold-54" transform="translate(464.013672 0)"/> <use href="#DejaVuSans-Bold-20" transform="translate(532.226562 0)"/> <use href="#DejaVuSans-Bold-35" transform="translate(567.041016 0)"/> <use href="#DejaVuSans-Bold-6d" transform="translate(636.621094 0)"/> <use href="#DejaVuSans-Bold-20" transform="translate(740.820312 0)"/> <use href="#DejaVuSans-Bold-32" transform="translate(775.634766 0)"/> <use href="#DejaVuSans-Bold-36" transform="translate(845.214844 0)"/> <use href="#DejaVuSans-Bold-2e" transform="translate(914.794922 0)"/> <use href="#DejaVuSans-Bold-30" transform="translate(952.783203 0)"/> </g> </g> <g id="text_18"> <!-- Price --> <g transform="translate(825.361582 243.183414) rotate(-90) scale(0.10008 -0.094075)" stroke="#111111" stroke-width="161.15"> <defs> <path id="DejaVuSans-50" d="M 1259 4147 L 1259 2394 L 2053 2394 Q 2494 2394 2734 2622 Q 2975 2850 2975 3272 Q 2975 3691 2734 3919 Q 2494 4147 2053 4147 L 1259 4147 z M 628 4666 L 2053 4666 Q 2838 4666 3239 4311 Q 3641 3956 3641 3272 Q 3641 2581 3239 2228 Q 2838 1875 2053 1875 L 1259 1875 L 1259 0 L 628 0 L 628 4666 z " transform="scale(0.015625)"/> <path id="DejaVuSans-72" d="M 2631 2963 Q 2534 3019 2420 3045 Q 2306 3072 2169 3072 Q 1681 3072 1420 2755 Q 1159 2438 1159 1844 L 1159 0 L 581 0 L 581 3500 L 1159 3500 L 1159 2956 Q 1341 3275 1631 3429 Q 1922 3584 2338 3584 Q 2397 3584 2469 3576 Q 2541 3569 2628 3553 L 2631 2963 z " transform="scale(0.015625)"/> <path id="DejaVuSans-69" d="M 603 3500 L 1178 3500 L 1178 0 L 603 0 L 603 3500 z M 603 4863 L 1178 4863 L 1178 4134 L 603 4134 L 603 4863 z " transform="scale(0.015625)"/> <path id="DejaVuSans-63" d="M 3122 3366 L 3122 2828 Q 2878 2963 2633 3030 Q 2388 3097 2138 3097 Q 1578 3097 1268 2742 Q 959 2388 959 1747 Q 959 1106 1268 751 Q 1578 397 2138 397 Q 2388 397 2633 464 Q 2878 531 3122 666 L 3122 134 Q 2881 22 2623 -34 Q 2366 -91 2075 -91 Q 1284 -91 818 406 Q 353 903 353 1747 Q 353 2603 823 3093 Q 1294 3584 2113 3584 Q 2378 3584 2631 3529 Q 2884 3475 3122 3366 z " transform="scale(0.015625)"/> <path id="DejaVuSans-65" d="M 3597 1894 L 3597 1613 L 953 1613 Q 991 1019 1311 708 Q 1631 397 2203 397 Q 2534 397 2845 478 Q 3156 559 3463 722 L 3463 178 Q 3153 47 2828 -22 Q 2503 -91 2169 -91 Q 1331 -91 842 396 Q 353 884 353 1716 Q 353 2575 817 3079 Q 1281 3584 2069 3584 Q 2775 3584 3186 3129 Q 3597 2675 3597 1894 z M 3022 2063 Q 3016 2534 2758 2815 Q 2500 3097 2075 3097 Q 1594 3097 1305 2825 Q 1016 2553 972 2059 L 3022 2063 z " transform="scale(0.015625)"/> </defs> <use href="#DejaVuSans-50"/> <use href="#DejaVuSans-72" transform="translate(58.552734 0)"/> <use href="#DejaVuSans-69" transform="translate(99.666016 0)"/> <use href="#DejaVuSans-63" transform="translate(127.449219 0)"/> <use href="#DejaVuSans-65" transform="translate(182.429688 0)"/> </g> </g> <g id="text_19"> <!-- Volume  $10^{6}$ --> <g transform="translate(805.561583 477.80676) rotate(-90) scale(0.10008 -0.094075)" stroke="#111111" stroke-width="161.15"> <defs> <path id="DejaVuSans-56" d="M 1831 0 L 50 4666 L 709 4666 L 2188 738 L 3669 4666 L 4325 4666 L 2547 0 L 1831 0 z " transform="scale(0.015625)"/> <path id="DejaVuSans-6f" d="M 1959 3097 Q 1497 3097 1228 2736 Q 959 2375 959 1747 Q 959 1119 1226 758 Q 1494 397 1959 397 Q 2419 397 2687 759 Q 2956 1122 2956 1747 Q 2956 2369 2687 2733 Q 2419 3097 1959 3097 z M 1959 3584 Q 2709 3584 3137 3096 Q 3566 2609 3566 1747 Q 3566 888 3137 398 Q 2709 -91 1959 -91 Q 1206 -91 779 398 Q 353 888 353 1747 Q 353 2609 779 3096 Q 1206 3584 1959 3584 z " transform="scale(0.015625)"/> <path id="DejaVuSans-6d" d="M 3328 2828 Q 3544 3216 3844 3400 Q 4144 3584 4550 3584 Q 5097 3584 5394 3201 Q 5691 2819 5691 2113 L 5691 0 L 5113 0 L 5113 2094 Q 5113 2597 4934 2840 Q 4756 3084 4391 3084 Q 3944 3084 3684 2787 Q 3425 2491 3425 1978 L 3425 0 L 2847 0 L 2847 2094 Q 2847 2600 2669 2842 Q 2491 3084 2119 3084 Q 1678 3084 1418 2786 Q 1159 2488 1159 1978 L 1159 0 L 581 0 L 581 3500 L 1159 3500 L 1159 2956 Q 1356 3278 1631 3431 Q 1906 3584 2284 3584 Q 2666 3584 2933 3390 Q 3200 3197 3328 2828 z " transform="scale(0.015625)"/> </defs> <use href="#DejaVuSans-56" transform="translate(0 0.765625)"/> <use href="#DejaVuSans-6f" transform="translate(68.408203 0.765625)"/> <use href="#DejaVuSans-6c" transform="translate(129.589844 0.765625)"/> <use href="#DejaVuSans-75" transform="translate(157.373047 0.765625)"/> <use href="#DejaVuSans-6d" transform="translate(220.751953 0.765625)"/> <use href="#DejaVuSans-65" transform="translate(318.164062 0.765625)"/> <use href="#DejaVuSans-20" transform="translate(379.6875 0.765625)"/> <use href="#DejaVuSans-20" transform="translate(411.474609 0.765625)"/> <use href="#DejaVuSans-31" transform="translate(443.261719 0.765625)"/> <use href="#DejaVuSans-30" transform="translate(506.884766 0.765625)"/> <use href="#DejaVuSans-36" transform="translate(571.464844 39.046875) scale(0.7)"/> </g> </g> <g id="patch_157"> <path d="M 155.52 509.688 L 777.744 509.688 L 777.744 507.6 L 155.52 507.6 z " style="fill: #f7f7f7"/> </g> <g id="patch_158"> <path d="M 156.564 384.696 L 777.96 384.696 L 777.96 75.168 L 156.564 75.168 L 156.564 384.696 z " style="fill: none; stroke: #ec0010; stroke-width: 2.088"/> </g> </g> <defs> <clipPath id="p574d0a927d"> <rect x="155.52" y="384.768" width="622.224" height="124.92"/> </clipPath> <clipPath id="p2181c71e52"> <rect x="155.52" y="75.168" width="622.224" height="309.6"/> </clipPath> </defs> </svg> 
</body></html>
